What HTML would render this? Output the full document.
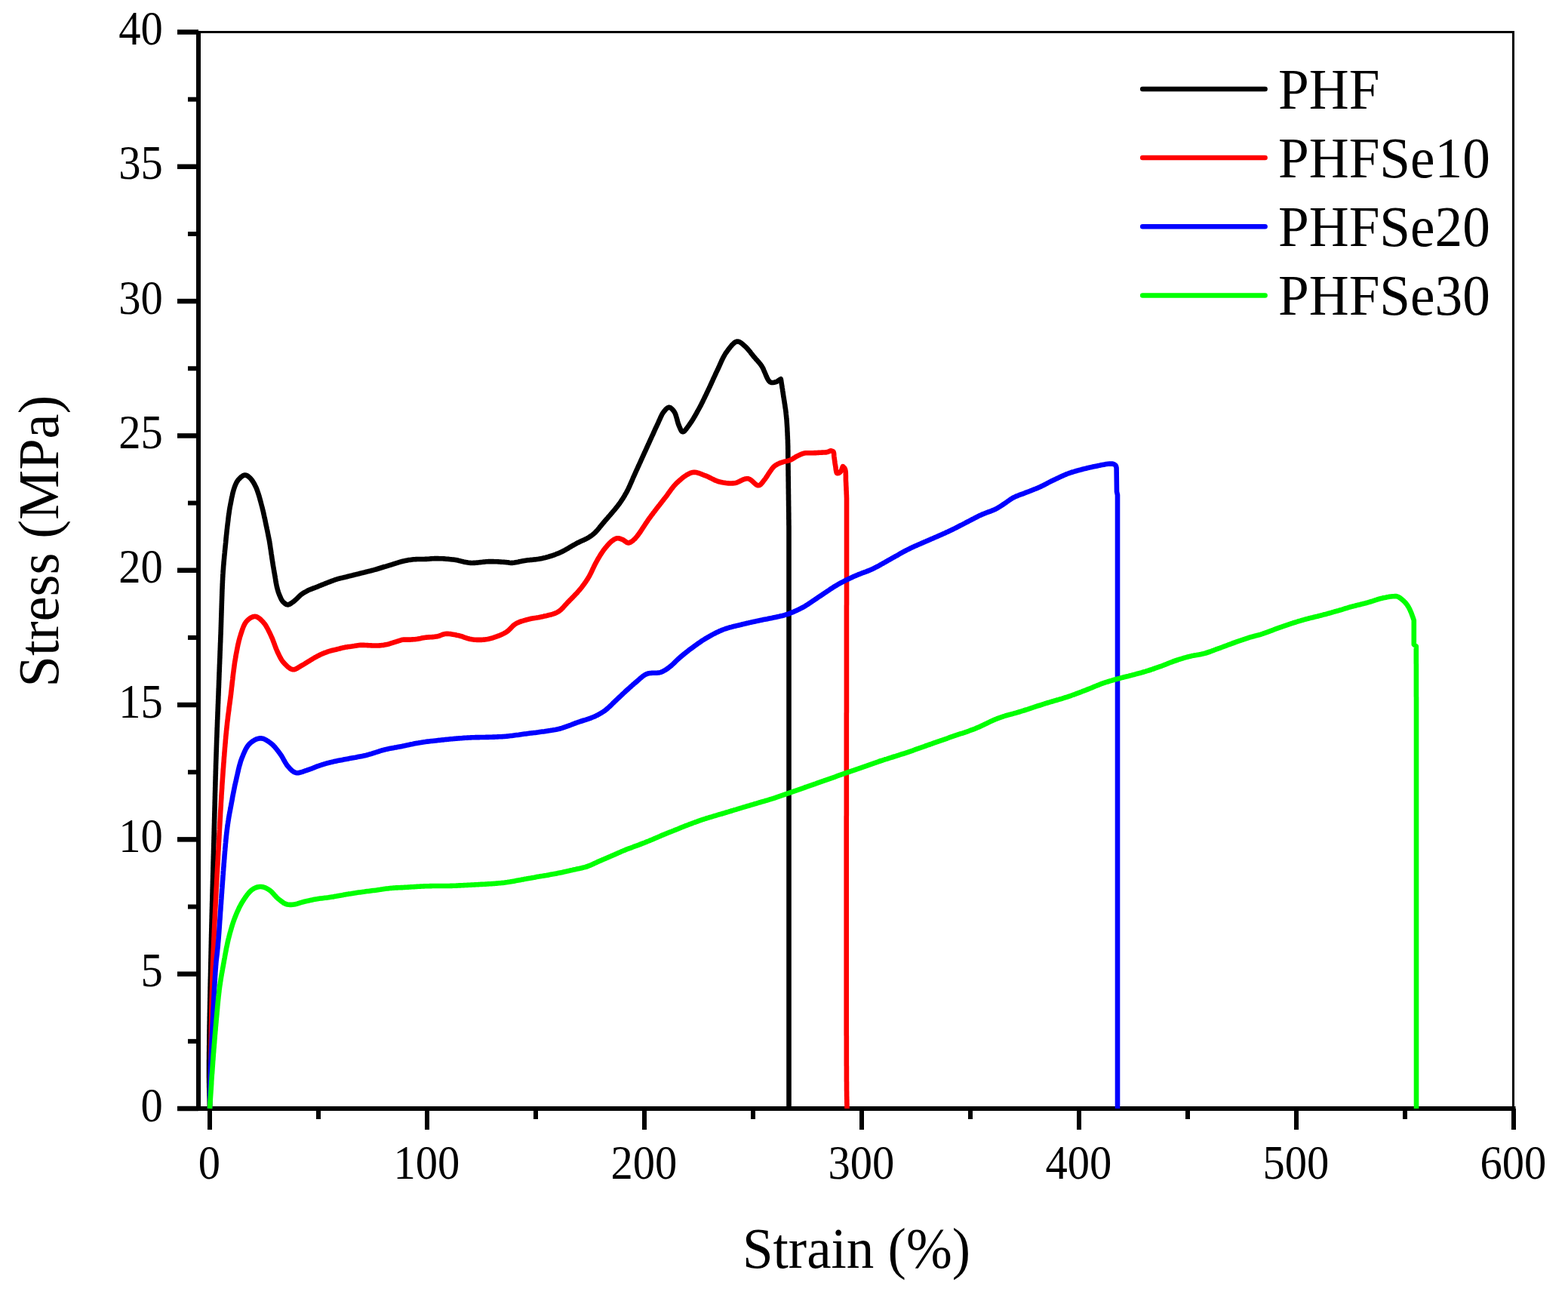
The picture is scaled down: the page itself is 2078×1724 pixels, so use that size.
<!DOCTYPE html>
<html><head><meta charset="utf-8"><title>Stress-Strain</title>
<style>
html,body{margin:0;padding:0;background:#fff;overflow:hidden;}
svg{display:block;}
text{font-family:"Liberation Serif","Times New Roman",serif;fill:#000;}
.tk{font-size:64px;}
.ti{font-size:76px;}
.lg{font-size:76px;}
</style></head>
<body>
<svg width="2078" height="1724" viewBox="0 0 2078 1724">
<rect width="2078" height="1724" fill="#fff"/>
<line x1="263" y1="42.5" x2="2005.5" y2="42.5" stroke="#000" stroke-width="3" stroke-linecap="square"/>
<line x1="2005.5" y1="42.5" x2="2005.5" y2="1469" stroke="#000" stroke-width="3" stroke-linecap="square"/>
<line x1="263" y1="41.0" x2="263" y2="1472" stroke="#000" stroke-width="6"/>
<line x1="260" y1="1469" x2="2008.5" y2="1469" stroke="#000" stroke-width="6"/>
<line x1="235" y1="1469.00" x2="263" y2="1469.00" stroke="#000" stroke-width="6.5"/>
<text transform="translate(215.80,1485.60) scale(0.915,1)" text-anchor="end" class="tk">0</text>
<line x1="249" y1="1379.84" x2="263" y2="1379.84" stroke="#000" stroke-width="6"/>
<line x1="235" y1="1290.69" x2="263" y2="1290.69" stroke="#000" stroke-width="6.5"/>
<text transform="translate(215.80,1307.29) scale(0.915,1)" text-anchor="end" class="tk">5</text>
<line x1="249" y1="1201.53" x2="263" y2="1201.53" stroke="#000" stroke-width="6"/>
<line x1="235" y1="1112.38" x2="263" y2="1112.38" stroke="#000" stroke-width="6.5"/>
<text transform="translate(215.80,1128.97) scale(0.915,1)" text-anchor="end" class="tk">10</text>
<line x1="249" y1="1023.22" x2="263" y2="1023.22" stroke="#000" stroke-width="6"/>
<line x1="235" y1="934.06" x2="263" y2="934.06" stroke="#000" stroke-width="6.5"/>
<text transform="translate(215.80,950.66) scale(0.915,1)" text-anchor="end" class="tk">15</text>
<line x1="249" y1="844.91" x2="263" y2="844.91" stroke="#000" stroke-width="6"/>
<line x1="235" y1="755.75" x2="263" y2="755.75" stroke="#000" stroke-width="6.5"/>
<text transform="translate(215.80,772.35) scale(0.915,1)" text-anchor="end" class="tk">20</text>
<line x1="249" y1="666.59" x2="263" y2="666.59" stroke="#000" stroke-width="6"/>
<line x1="235" y1="577.44" x2="263" y2="577.44" stroke="#000" stroke-width="6.5"/>
<text transform="translate(215.80,594.04) scale(0.915,1)" text-anchor="end" class="tk">25</text>
<line x1="249" y1="488.28" x2="263" y2="488.28" stroke="#000" stroke-width="6"/>
<line x1="235" y1="399.12" x2="263" y2="399.12" stroke="#000" stroke-width="6.5"/>
<text transform="translate(215.80,415.73) scale(0.915,1)" text-anchor="end" class="tk">30</text>
<line x1="249" y1="309.97" x2="263" y2="309.97" stroke="#000" stroke-width="6"/>
<line x1="235" y1="220.81" x2="263" y2="220.81" stroke="#000" stroke-width="6.5"/>
<text transform="translate(215.80,237.41) scale(0.915,1)" text-anchor="end" class="tk">35</text>
<line x1="249" y1="131.66" x2="263" y2="131.66" stroke="#000" stroke-width="6"/>
<line x1="235" y1="42.50" x2="263" y2="42.50" stroke="#000" stroke-width="6.5"/>
<text transform="translate(215.80,59.10) scale(0.915,1)" text-anchor="end" class="tk">40</text>
<line x1="278.00" y1="1469" x2="278.00" y2="1497" stroke="#000" stroke-width="6"/>
<text transform="translate(277.40,1562.00) scale(0.915,1)" text-anchor="middle" class="tk">0</text>
<line x1="422.00" y1="1469" x2="422.00" y2="1483" stroke="#000" stroke-width="6"/>
<line x1="566.00" y1="1469" x2="566.00" y2="1497" stroke="#000" stroke-width="6"/>
<text transform="translate(565.40,1562.00) scale(0.915,1)" text-anchor="middle" class="tk">100</text>
<line x1="710.00" y1="1469" x2="710.00" y2="1483" stroke="#000" stroke-width="6"/>
<line x1="854.00" y1="1469" x2="854.00" y2="1497" stroke="#000" stroke-width="6"/>
<text transform="translate(853.40,1562.00) scale(0.915,1)" text-anchor="middle" class="tk">200</text>
<line x1="998.00" y1="1469" x2="998.00" y2="1483" stroke="#000" stroke-width="6"/>
<line x1="1142.00" y1="1469" x2="1142.00" y2="1497" stroke="#000" stroke-width="6"/>
<text transform="translate(1141.40,1562.00) scale(0.915,1)" text-anchor="middle" class="tk">300</text>
<line x1="1286.00" y1="1469" x2="1286.00" y2="1483" stroke="#000" stroke-width="6"/>
<line x1="1430.00" y1="1469" x2="1430.00" y2="1497" stroke="#000" stroke-width="6"/>
<text transform="translate(1429.40,1562.00) scale(0.915,1)" text-anchor="middle" class="tk">400</text>
<line x1="1574.00" y1="1469" x2="1574.00" y2="1483" stroke="#000" stroke-width="6"/>
<line x1="1718.00" y1="1469" x2="1718.00" y2="1497" stroke="#000" stroke-width="6"/>
<text transform="translate(1717.40,1562.00) scale(0.915,1)" text-anchor="middle" class="tk">500</text>
<line x1="1862.00" y1="1469" x2="1862.00" y2="1483" stroke="#000" stroke-width="6"/>
<line x1="2006.00" y1="1469" x2="2006.00" y2="1497" stroke="#000" stroke-width="6"/>
<text transform="translate(2005.40,1562.00) scale(0.915,1)" text-anchor="middle" class="tk">600</text>
<polyline points="278.0,1469.0 278.0,1467.5 277.9,1466.0 277.9,1464.5 277.9,1463.1 277.8,1461.6 277.8,1460.2 277.7,1458.8 277.7,1457.4 277.7,1456.0 277.6,1454.7 277.6,1453.3 277.5,1451.9 277.5,1450.5 277.5,1449.1 277.4,1447.7 277.4,1446.3 277.4,1444.9 277.3,1443.4 277.3,1442.0 277.2,1440.5 277.2,1439.0 277.2,1437.5 277.2,1435.9 277.1,1434.3 277.1,1432.7 277.1,1431.0 277.1,1429.3 277.0,1427.5 277.0,1425.7 277.0,1423.9 277.0,1422.0 277.0,1420.0 277.0,1418.9 277.0,1417.8 277.0,1416.7 277.0,1415.6 277.0,1414.5 277.0,1413.3 277.0,1412.2 277.0,1411.0 277.0,1409.8 277.0,1408.6 277.0,1407.4 277.0,1406.1 277.0,1404.9 277.1,1403.6 277.1,1402.3 277.1,1401.0 277.1,1399.7 277.1,1398.4 277.1,1397.1 277.1,1395.7 277.1,1394.4 277.2,1393.0 277.2,1391.6 277.2,1390.2 277.2,1388.8 277.2,1387.4 277.2,1386.0 277.3,1384.5 277.3,1383.1 277.3,1381.6 277.3,1380.2 277.3,1378.7 277.4,1377.2 277.4,1375.7 277.4,1374.2 277.4,1372.7 277.4,1371.2 277.5,1369.7 277.5,1368.1 277.5,1366.6 277.5,1365.1 277.6,1363.5 277.6,1361.9 277.6,1360.4 277.6,1358.8 277.7,1357.2 277.7,1355.6 277.7,1354.0 277.8,1352.4 277.8,1350.8 277.8,1349.2 277.8,1347.6 277.9,1346.0 277.9,1344.4 277.9,1342.8 278.0,1341.1 278.0,1339.5 278.0,1337.9 278.1,1336.2 278.1,1334.6 278.1,1332.9 278.2,1331.3 278.2,1329.6 278.2,1328.0 278.3,1326.3 278.3,1324.7 278.3,1323.0 278.4,1321.4 278.4,1319.7 278.4,1318.0 278.5,1316.4 278.5,1314.7 278.5,1313.1 278.6,1311.4 278.6,1309.7 278.6,1308.1 278.7,1306.4 278.7,1304.8 278.7,1303.1 278.8,1301.5 278.8,1299.8 278.8,1298.2 278.9,1296.5 278.9,1294.9 279.0,1293.3 279.0,1291.6 279.0,1290.0 279.1,1288.4 279.1,1286.7 279.1,1285.1 279.2,1283.5 279.2,1281.9 279.2,1280.3 279.3,1278.7 279.3,1277.1 279.3,1275.5 279.4,1273.9 279.4,1272.4 279.4,1270.8 279.5,1269.2 279.5,1267.7 279.5,1266.1 279.6,1264.6 279.6,1263.0 279.6,1261.5 279.7,1260.0 279.7,1258.5 279.7,1257.0 279.8,1255.5 279.8,1254.0 279.8,1252.5 279.9,1250.9 279.9,1249.4 279.9,1247.8 280.0,1246.3 280.0,1244.7 280.0,1243.2 280.1,1241.6 280.1,1240.1 280.1,1238.5 280.2,1237.0 280.2,1235.4 280.3,1233.8 280.3,1232.3 280.3,1230.7 280.4,1229.1 280.4,1227.6 280.4,1226.0 280.5,1224.4 280.5,1222.9 280.6,1221.3 280.6,1219.7 280.6,1218.2 280.7,1216.6 280.7,1215.0 280.7,1213.5 280.8,1211.9 280.8,1210.3 280.9,1208.8 280.9,1207.2 280.9,1205.6 281.0,1204.0 281.0,1202.5 281.1,1200.9 281.1,1199.3 281.1,1197.8 281.2,1196.2 281.2,1194.6 281.3,1193.1 281.3,1191.5 281.4,1189.9 281.4,1188.4 281.4,1186.8 281.5,1185.3 281.5,1183.7 281.6,1182.2 281.6,1180.6 281.6,1179.0 281.7,1177.5 281.7,1175.9 281.8,1174.4 281.8,1172.8 281.9,1171.3 281.9,1169.8 281.9,1168.2 282.0,1166.7 282.0,1165.2 282.1,1163.6 282.1,1162.1 282.1,1160.6 282.2,1159.0 282.2,1157.5 282.3,1156.0 282.3,1154.5 282.4,1153.0 282.4,1151.5 282.4,1150.0 282.5,1148.5 282.5,1147.0 282.6,1145.5 282.6,1144.0 282.6,1142.5 282.7,1141.0 282.7,1139.5 282.8,1138.0 282.8,1136.6 282.8,1135.1 282.9,1133.6 282.9,1132.2 283.0,1130.7 283.0,1129.3 283.0,1127.8 283.1,1126.4 283.1,1125.0 283.2,1123.5 283.2,1122.1 283.2,1120.7 283.3,1119.3 283.3,1117.8 283.4,1116.4 283.4,1115.0 283.4,1113.6 283.5,1112.3 283.5,1110.9 283.5,1109.5 283.6,1108.1 283.6,1106.7 283.7,1105.4 283.7,1104.0 283.7,1102.7 283.8,1101.3 283.8,1100.0 283.8,1098.3 283.9,1096.7 283.9,1095.0 284.0,1093.3 284.0,1091.7 284.1,1090.1 284.1,1088.4 284.1,1086.8 284.2,1085.2 284.2,1083.6 284.3,1082.0 284.3,1080.4 284.3,1078.8 284.4,1077.3 284.4,1075.7 284.5,1074.1 284.5,1072.6 284.5,1071.0 284.6,1069.5 284.6,1067.9 284.7,1066.4 284.7,1064.9 284.7,1063.4 284.8,1061.8 284.8,1060.3 284.9,1058.8 284.9,1057.3 284.9,1055.8 285.0,1054.3 285.0,1052.8 285.0,1051.4 285.1,1049.9 285.1,1048.4 285.2,1046.9 285.2,1045.5 285.2,1044.0 285.3,1042.5 285.3,1041.1 285.4,1039.6 285.4,1038.2 285.4,1036.7 285.5,1035.3 285.5,1033.8 285.6,1032.4 285.6,1030.9 285.6,1029.5 285.7,1028.0 285.7,1026.6 285.8,1025.2 285.8,1023.7 285.8,1022.3 285.9,1020.8 285.9,1019.4 286.0,1018.0 286.0,1016.5 286.0,1015.1 286.1,1013.7 286.1,1012.2 286.2,1010.8 286.2,1009.4 286.3,1007.9 286.3,1006.5 286.4,1005.0 286.4,1003.6 286.5,1002.0 286.5,1000.5 286.6,998.9 286.6,997.4 286.7,995.8 286.7,994.3 286.8,992.7 286.8,991.2 286.9,989.7 286.9,988.1 287.0,986.6 287.0,985.1 287.1,983.6 287.1,982.1 287.2,980.5 287.2,979.0 287.3,977.5 287.4,976.0 287.4,974.5 287.5,973.0 287.5,971.5 287.6,970.0 287.6,968.5 287.7,967.0 287.7,965.5 287.8,964.1 287.9,962.6 287.9,961.1 288.0,959.6 288.0,958.1 288.1,956.6 288.1,955.1 288.2,953.7 288.3,952.2 288.3,950.7 288.4,949.2 288.4,947.7 288.5,946.2 288.5,944.8 288.6,943.3 288.7,941.8 288.7,940.3 288.8,938.8 288.8,937.3 288.9,935.9 288.9,934.4 289.0,932.9 289.1,931.4 289.1,929.9 289.2,928.4 289.2,926.9 289.3,925.4 289.3,923.9 289.4,922.4 289.5,920.9 289.5,919.4 289.6,917.9 289.6,916.4 289.7,914.9 289.7,913.4 289.8,911.9 289.9,910.4 289.9,908.9 290.0,907.4 290.0,905.9 290.1,904.4 290.1,902.9 290.2,901.3 290.3,899.8 290.3,898.3 290.4,896.8 290.4,895.3 290.5,893.8 290.5,892.3 290.6,890.8 290.7,889.3 290.7,887.8 290.8,886.3 290.8,884.8 290.9,883.3 290.9,881.8 291.0,880.3 291.1,878.8 291.1,877.3 291.2,875.8 291.2,874.3 291.3,872.8 291.4,871.3 291.4,869.8 291.5,868.3 291.5,866.8 291.6,865.3 291.6,863.8 291.7,862.3 291.8,860.7 291.8,859.2 291.9,857.7 291.9,856.2 292.0,854.7 292.0,853.2 292.1,851.7 292.2,850.2 292.2,848.7 292.3,847.2 292.3,845.7 292.4,844.2 292.4,842.7 292.5,841.2 292.6,839.7 292.6,838.2 292.7,836.6 292.7,835.1 292.8,833.6 292.8,832.0 292.9,830.5 292.9,828.9 293.0,827.3 293.0,825.8 293.1,824.2 293.1,822.6 293.2,821.0 293.2,819.4 293.3,817.8 293.3,816.3 293.4,814.7 293.4,813.1 293.5,811.5 293.5,809.9 293.6,808.3 293.6,806.7 293.7,805.1 293.7,803.5 293.8,802.0 293.8,800.4 293.9,798.8 293.9,797.2 294.0,795.7 294.0,794.1 294.1,792.6 294.1,791.0 294.2,789.5 294.2,788.0 294.3,786.5 294.3,785.0 294.4,783.5 294.4,782.0 294.5,780.5 294.6,779.0 294.6,777.6 294.7,776.1 294.7,774.7 294.8,773.3 294.9,771.9 294.9,770.5 295.0,769.1 295.1,767.8 295.1,766.4 295.2,765.1 295.3,763.8 295.3,762.5 295.4,761.2 295.5,760.0 295.6,758.2 295.7,756.4 295.9,754.7 296.0,753.0 296.1,751.3 296.2,749.6 296.4,748.0 296.5,746.3 296.6,744.7 296.8,743.2 296.9,741.6 297.1,740.1 297.2,738.5 297.3,737.0 297.5,735.5 297.6,734.1 297.8,732.6 297.9,731.2 298.0,729.7 298.2,728.3 298.3,726.9 298.5,725.5 298.6,724.1 298.7,722.7 298.9,721.4 299.0,720.0 299.2,718.3 299.3,716.6 299.5,714.9 299.6,713.3 299.8,711.8 299.9,710.2 300.1,708.7 300.3,707.1 300.4,705.6 300.6,704.1 300.7,702.6 300.9,701.1 301.1,699.6 301.2,698.1 301.4,696.6 301.6,695.0 301.8,693.4 302.0,691.9 302.2,690.3 302.4,688.7 302.5,687.2 302.7,685.6 302.9,684.0 303.1,682.5 303.4,680.9 303.6,679.4 303.8,677.8 304.0,676.2 304.3,674.7 304.5,673.1 304.8,671.6 305.1,670.0 305.4,668.5 305.7,667.0 306.0,665.4 306.3,663.8 306.6,662.3 306.9,660.7 307.2,659.1 307.6,657.5 307.9,656.0 308.3,654.4 308.6,652.9 309.0,651.5 309.4,650.1 309.8,648.7 310.2,647.4 310.6,646.2 311.0,645.0 311.7,643.3 312.4,641.6 313.1,640.1 313.8,638.7 314.6,637.4 315.5,636.2 316.5,635.0 317.7,633.8 319.0,632.5 320.5,631.4 321.9,630.4 323.4,629.8 324.7,629.5 326.3,629.7 327.9,630.5 329.5,631.7 331.0,633.0 331.9,633.9 332.9,635.0 333.8,636.2 334.7,637.5 335.6,638.8 336.4,640.3 337.3,641.8 338.1,643.4 338.9,645.0 339.5,646.2 340.0,647.5 340.5,648.8 341.0,650.2 341.5,651.6 342.0,653.1 342.5,654.6 343.0,656.1 343.4,657.6 343.9,659.2 344.3,660.7 344.7,662.3 345.2,663.9 345.6,665.4 346.0,667.0 346.4,668.5 346.8,670.0 347.2,671.5 347.6,672.9 347.9,674.4 348.3,675.9 348.7,677.4 349.0,678.8 349.3,680.3 349.7,681.8 350.0,683.3 350.3,684.8 350.6,686.2 351.0,687.7 351.3,689.2 351.6,690.7 351.9,692.1 352.2,693.6 352.5,695.0 352.8,696.6 353.2,698.1 353.5,699.7 353.8,701.2 354.2,702.8 354.5,704.4 354.8,705.9 355.1,707.5 355.4,709.0 355.7,710.5 356.0,712.0 356.3,713.5 356.6,714.9 356.9,716.3 357.1,717.7 357.4,719.3 357.6,720.9 357.9,722.4 358.1,724.0 358.3,725.4 358.5,726.9 358.8,728.4 359.0,729.8 359.2,731.3 359.4,732.8 359.6,734.3 359.9,735.8 360.1,737.3 360.3,738.8 360.5,740.4 360.8,741.9 361.0,743.4 361.2,744.9 361.5,746.4 361.7,747.9 361.9,749.4 362.2,750.9 362.5,752.4 362.7,753.9 363.0,755.5 363.2,757.0 363.5,758.5 363.8,760.0 364.0,761.5 364.3,763.0 364.6,764.5 364.8,766.0 365.1,767.6 365.3,769.1 365.5,770.6 365.8,772.2 366.1,773.7 366.4,775.1 366.7,776.6 367.0,778.0 367.5,779.7 367.9,781.5 368.4,783.1 368.9,784.8 369.5,786.4 370.1,787.9 370.7,789.4 371.4,790.9 372.0,792.4 372.7,793.9 373.5,795.2 374.3,796.5 375.2,797.6 376.6,798.9 378.1,800.1 379.7,801.0 381.3,801.4 382.8,801.1 384.3,800.4 385.9,799.4 387.3,798.4 388.6,797.5 389.9,796.4 391.2,795.4 392.5,794.2 393.7,793.1 394.9,791.8 396.2,790.5 397.5,789.3 398.9,788.1 400.1,787.2 401.4,786.3 402.8,785.4 404.2,784.6 405.7,783.8 407.1,783.0 408.5,782.3 410.1,781.6 411.7,780.9 413.3,780.3 414.9,779.7 416.5,779.1 418.1,778.5 419.7,777.9 421.3,777.2 422.9,776.5 424.5,775.9 426.1,775.2 427.7,774.6 429.3,774.0 430.9,773.3 432.5,772.7 434.2,772.0 435.8,771.4 437.4,770.8 439.0,770.2 440.6,769.6 442.2,769.0 443.8,768.4 445.4,767.9 447.0,767.4 448.6,766.9 450.2,766.5 451.8,766.1 453.4,765.8 455.0,765.4 456.6,765.0 458.2,764.6 459.8,764.2 461.4,763.8 463.0,763.4 464.6,763.0 466.2,762.6 467.8,762.2 469.4,761.8 471.1,761.4 472.7,761.0 474.3,760.6 475.9,760.2 477.5,759.8 479.1,759.4 480.7,759.0 482.3,758.6 483.9,758.2 485.5,757.8 487.1,757.4 488.7,757.0 490.3,756.6 491.9,756.2 493.5,755.8 495.1,755.4 496.7,754.9 498.3,754.5 499.9,754.0 501.5,753.5 503.1,753.0 504.7,752.5 506.3,752.0 507.9,751.5 509.5,751.0 511.2,750.6 512.8,750.1 514.4,749.6 516.0,749.1 517.6,748.6 519.2,748.2 520.8,747.7 522.4,747.2 524.0,746.7 525.6,746.2 527.2,745.7 528.8,745.2 530.4,744.7 532.0,744.2 533.6,743.8 535.2,743.4 536.8,743.1 538.4,742.7 540.0,742.4 541.6,742.1 543.2,741.9 544.8,741.7 546.4,741.5 548.0,741.3 549.7,741.2 551.3,741.1 552.9,741.0 554.5,741.0 556.0,741.0 557.5,741.0 559.1,741.0 560.7,741.0 562.5,741.0 563.8,740.9 565.2,740.9 566.7,740.8 568.1,740.7 569.6,740.5 571.2,740.4 572.7,740.3 574.3,740.2 575.9,740.1 577.6,740.1 579.2,740.1 580.6,740.1 582.1,740.2 583.6,740.2 585.2,740.3 586.7,740.3 588.3,740.4 589.9,740.5 591.4,740.7 593.0,740.8 594.6,740.9 596.2,741.1 597.8,741.2 599.3,741.4 600.9,741.6 602.4,741.8 603.9,742.0 605.4,742.3 606.9,742.6 608.4,743.0 609.9,743.3 611.3,743.7 612.8,744.0 614.3,744.4 615.7,744.7 617.2,745.1 618.7,745.3 620.2,745.6 621.7,745.8 623.3,745.9 624.7,746.0 626.2,746.0 627.7,745.9 629.1,745.9 630.6,745.8 632.1,745.6 633.7,745.5 635.2,745.3 636.7,745.1 638.2,745.0 639.8,744.8 641.3,744.6 642.8,744.5 644.3,744.3 645.8,744.2 647.3,744.1 648.8,744.1 650.4,744.1 652.1,744.1 653.7,744.1 655.4,744.2 657.1,744.3 658.8,744.3 660.5,744.4 662.1,744.5 663.7,744.6 665.3,744.7 666.8,744.8 668.2,744.9 669.6,745.0 670.8,745.1 672.0,745.2 674.0,745.4 675.6,745.7 677.1,745.9 679.0,745.9 680.3,745.8 681.8,745.6 683.3,745.3 684.9,745.0 686.5,744.7 688.2,744.3 689.9,743.9 691.7,743.6 693.4,743.2 695.2,742.9 696.6,742.7 698.1,742.5 699.6,742.3 701.1,742.2 702.6,742.0 704.2,741.9 705.8,741.7 707.4,741.5 708.9,741.4 710.5,741.2 712.1,741.0 713.7,740.8 715.3,740.5 716.9,740.2 718.4,739.9 719.9,739.6 721.3,739.2 722.8,738.9 724.3,738.5 725.7,738.1 727.2,737.7 728.6,737.2 730.1,736.8 731.5,736.3 733.0,735.8 734.4,735.3 735.9,734.8 737.3,734.2 738.7,733.7 740.2,733.1 741.6,732.5 743.0,731.9 744.4,731.2 745.8,730.5 747.2,729.8 748.6,729.0 750.1,728.2 751.5,727.4 752.9,726.6 754.2,725.8 755.6,724.9 757.0,724.1 758.3,723.3 759.7,722.6 761.0,721.8 762.3,721.1 763.6,720.4 764.8,719.7 766.3,718.9 767.8,718.2 769.3,717.5 770.8,716.8 772.2,716.2 773.6,715.6 775.0,714.9 776.3,714.3 777.6,713.6 778.8,713.0 780.0,712.3 781.5,711.3 782.9,710.4 784.2,709.5 785.5,708.5 786.7,707.4 788.1,706.2 789.1,705.3 790.0,704.3 791.0,703.2 792.0,702.1 792.9,701.0 793.9,699.8 794.9,698.5 796.0,697.3 797.0,696.0 798.1,694.7 799.2,693.3 800.3,692.0 801.2,691.0 802.1,689.9 803.0,688.8 804.0,687.7 805.0,686.6 806.0,685.4 807.0,684.2 808.0,683.1 809.1,681.8 810.1,680.6 811.2,679.4 812.2,678.2 813.2,677.0 814.2,675.8 815.2,674.6 816.2,673.4 817.2,672.2 818.1,671.0 819.0,669.9 819.8,668.8 820.6,667.7 821.6,666.3 822.6,664.9 823.5,663.5 824.4,662.2 825.3,660.9 826.1,659.6 826.9,658.3 827.7,657.0 828.4,655.6 829.2,654.3 830.0,652.9 830.8,651.4 831.5,650.1 832.1,648.8 832.8,647.5 833.4,646.1 834.1,644.7 834.7,643.3 835.3,641.9 835.9,640.5 836.6,639.1 837.2,637.6 837.8,636.2 838.4,634.8 839.0,633.3 839.6,631.9 840.3,630.5 840.9,629.1 841.5,627.7 842.2,626.3 842.8,624.9 843.4,623.5 844.1,622.1 844.7,620.7 845.3,619.3 845.9,618.0 846.6,616.6 847.2,615.2 847.8,613.8 848.5,612.4 849.1,611.0 849.7,609.6 850.4,608.2 851.0,606.8 851.6,605.4 852.3,604.0 852.9,602.6 853.5,601.2 854.2,599.8 854.8,598.4 855.5,597.0 856.1,595.6 856.7,594.2 857.4,592.8 858.0,591.4 858.6,590.0 859.3,588.6 859.9,587.2 860.6,585.8 861.2,584.4 861.8,583.0 862.5,581.6 863.1,580.2 863.8,578.7 864.4,577.3 865.1,575.9 865.7,574.4 866.4,573.0 867.0,571.6 867.6,570.2 868.3,568.8 868.9,567.4 869.5,566.1 870.2,564.7 870.8,563.4 871.4,562.1 872.1,560.6 872.8,559.1 873.4,557.6 874.1,556.2 874.7,554.7 875.4,553.3 876.0,551.9 876.7,550.5 877.3,549.3 878.0,548.0 878.8,546.9 879.5,545.9 880.6,544.5 881.8,543.1 883.0,541.8 884.2,540.8 885.4,540.1 886.6,539.8 887.8,540.0 889.1,540.7 890.3,541.7 891.5,543.0 892.7,544.4 893.7,545.9 894.4,547.1 895.0,548.4 895.5,549.8 896.0,551.4 896.5,553.1 897.0,554.8 897.4,556.5 897.9,558.2 898.3,559.8 898.8,561.4 899.3,562.8 899.8,564.1 900.6,565.9 901.3,567.7 902.1,569.4 902.9,570.8 903.8,571.9 904.8,572.3 905.7,572.1 906.6,571.6 907.6,570.7 908.6,569.5 909.7,568.1 910.8,566.6 911.9,565.1 913.0,563.6 914.0,562.1 914.8,561.0 915.6,559.8 916.4,558.6 917.3,557.3 918.1,556.0 918.9,554.7 919.7,553.3 920.6,551.9 921.4,550.5 922.2,549.0 923.0,547.6 923.8,546.1 924.6,544.7 925.4,543.2 926.2,541.8 926.9,540.5 927.6,539.2 928.3,537.9 929.0,536.6 929.6,535.3 930.3,533.9 931.0,532.6 931.7,531.2 932.3,529.8 933.0,528.5 933.7,527.1 934.3,525.7 935.0,524.3 935.7,523.0 936.3,521.6 937.0,520.2 937.6,518.8 938.3,517.4 938.9,516.0 939.6,514.7 940.2,513.3 940.9,511.9 941.5,510.5 942.2,509.1 942.8,507.7 943.4,506.3 944.1,504.9 944.7,503.5 945.3,502.1 946.0,500.7 946.6,499.3 947.3,497.9 947.9,496.5 948.6,495.1 949.2,493.7 949.8,492.4 950.5,491.0 951.2,489.6 951.8,488.2 952.5,486.8 953.1,485.4 953.7,483.9 954.4,482.5 955.0,481.1 955.6,479.7 956.3,478.3 956.9,476.9 957.6,475.5 958.3,474.1 959.0,472.8 959.7,471.5 960.4,470.3 961.1,469.0 961.9,467.8 962.7,466.7 963.7,465.3 964.7,463.9 965.8,462.5 966.9,461.1 968.0,459.6 969.1,458.3 970.2,457.0 971.4,455.9 972.5,454.8 973.6,453.9 974.7,453.2 975.8,452.8 976.9,452.5 978.4,452.6 979.9,453.0 981.3,453.8 982.8,454.9 984.2,456.1 985.7,457.4 987.1,458.6 988.1,459.5 989.2,460.6 990.2,461.7 991.2,462.8 992.3,464.1 993.3,465.3 994.3,466.6 995.3,467.9 996.3,469.2 997.3,470.4 998.2,471.6 999.2,472.8 1000.3,474.0 1001.3,475.2 1002.4,476.4 1003.4,477.5 1004.4,478.7 1005.4,479.8 1006.4,481.0 1007.4,482.3 1008.4,483.6 1009.4,485.0 1010.1,486.2 1010.9,487.5 1011.6,489.0 1012.2,490.5 1012.9,492.1 1013.6,493.7 1014.3,495.3 1014.9,496.9 1015.6,498.5 1016.3,500.0 1017.0,501.4 1017.7,502.8 1018.4,503.9 1019.1,504.9 1019.8,505.7 1020.6,506.3 1022.3,507.0 1024.1,507.0 1025.9,506.7 1027.7,506.3 1029.2,505.8 1030.6,505.0 1032.0,504.0 1033.4,503.1 1034.8,502.2 1035.0,503.7 1035.3,505.1 1035.5,506.6 1035.7,508.0 1035.9,509.5 1036.2,510.9 1036.4,512.3 1036.6,513.8 1036.9,515.3 1037.1,516.8 1037.3,518.3 1037.6,519.9 1037.8,521.5 1038.0,522.9 1038.2,524.2 1038.4,525.7 1038.7,527.1 1038.9,528.5 1039.1,530.0 1039.4,531.5 1039.6,533.0 1039.8,534.5 1040.1,536.0 1040.3,537.5 1040.5,539.1 1040.7,540.6 1041.0,542.1 1041.2,543.7 1041.4,545.2 1041.6,546.8 1041.7,548.3 1041.9,549.9 1042.0,551.4 1042.2,552.9 1042.3,554.4 1042.5,555.9 1042.6,557.4 1042.7,558.9 1042.8,560.5 1042.9,562.0 1043.0,563.5 1043.1,565.1 1043.2,566.6 1043.3,568.2 1043.3,569.7 1043.4,571.3 1043.5,572.9 1043.6,574.4 1043.6,576.0 1043.7,577.6 1043.8,579.2 1043.8,580.8 1043.9,582.4 1044.0,583.8 1044.0,585.3 1044.0,586.7 1044.1,588.1 1044.1,589.5 1044.2,590.9 1044.2,592.3 1044.2,593.7 1044.2,595.1 1044.3,596.6 1044.3,598.0 1044.3,599.4 1044.3,600.9 1044.3,602.3 1044.3,603.8 1044.3,605.3 1044.4,606.8 1044.4,608.4 1044.4,609.9 1044.4,611.5 1044.4,613.2 1044.4,614.8 1044.5,616.5 1044.5,618.2 1044.5,620.0 1044.5,621.2 1044.5,622.5 1044.6,623.8 1044.6,625.1 1044.6,626.4 1044.6,627.7 1044.6,629.1 1044.6,630.5 1044.7,631.8 1044.7,633.2 1044.7,634.7 1044.7,636.1 1044.7,637.5 1044.8,639.0 1044.8,640.5 1044.8,642.0 1044.8,643.5 1044.8,645.0 1044.8,646.5 1044.9,648.0 1044.9,649.5 1044.9,651.1 1044.9,652.6 1044.9,654.2 1045.0,655.8 1045.0,657.3 1045.0,658.9 1045.0,660.5 1045.0,662.1 1045.1,663.7 1045.1,665.3 1045.1,666.9 1045.1,668.5 1045.1,670.1 1045.2,671.7 1045.2,673.3 1045.2,674.9 1045.2,676.5 1045.2,678.1 1045.3,679.7 1045.3,681.3 1045.3,682.9 1045.3,684.5 1045.3,686.1 1045.3,687.6 1045.4,689.2 1045.4,690.8 1045.4,692.3 1045.4,693.9 1045.4,695.4 1045.5,697.0 1045.5,698.5 1045.5,700.0 1045.5,1469.0" fill="none" stroke="#000000" stroke-width="6.6" stroke-linejoin="round" stroke-linecap="butt"/>
<polyline points="278.0,1469.0 278.0,1467.5 278.1,1466.0 278.1,1464.5 278.1,1463.0 278.2,1461.6 278.2,1460.2 278.2,1458.8 278.2,1457.3 278.3,1455.9 278.3,1454.5 278.3,1453.1 278.3,1451.7 278.4,1450.3 278.4,1448.9 278.4,1447.5 278.5,1446.1 278.5,1444.6 278.5,1443.2 278.6,1441.7 278.6,1440.2 278.6,1438.7 278.6,1437.2 278.7,1435.6 278.7,1434.0 278.7,1432.4 278.8,1430.7 278.8,1429.1 278.8,1427.3 278.9,1425.6 278.9,1423.8 279.0,1421.9 279.0,1420.0 279.0,1418.9 279.0,1417.7 279.1,1416.6 279.1,1415.4 279.1,1414.2 279.1,1413.0 279.2,1411.8 279.2,1410.6 279.2,1409.4 279.2,1408.1 279.3,1406.9 279.3,1405.6 279.3,1404.3 279.3,1403.0 279.3,1401.7 279.4,1400.4 279.4,1399.0 279.4,1397.7 279.4,1396.3 279.5,1395.0 279.5,1393.6 279.5,1392.2 279.5,1390.8 279.5,1389.4 279.6,1388.0 279.6,1386.6 279.6,1385.1 279.6,1383.7 279.7,1382.2 279.7,1380.8 279.7,1379.3 279.7,1377.8 279.8,1376.3 279.8,1374.8 279.8,1373.3 279.8,1371.8 279.9,1370.3 279.9,1368.8 279.9,1367.3 279.9,1365.7 280.0,1364.2 280.0,1362.6 280.0,1361.1 280.0,1359.5 280.1,1357.9 280.1,1356.4 280.1,1354.8 280.2,1353.2 280.2,1351.6 280.2,1350.0 280.2,1348.4 280.3,1346.8 280.3,1345.2 280.3,1343.6 280.4,1342.0 280.4,1340.4 280.4,1338.8 280.5,1337.1 280.5,1335.5 280.5,1333.9 280.6,1332.3 280.6,1330.6 280.6,1329.0 280.7,1327.4 280.7,1325.7 280.7,1324.1 280.8,1322.4 280.8,1320.8 280.9,1319.1 280.9,1317.5 280.9,1315.9 281.0,1314.2 281.0,1312.6 281.1,1310.9 281.1,1309.3 281.2,1307.6 281.2,1306.0 281.2,1304.4 281.3,1302.7 281.3,1301.1 281.4,1299.4 281.4,1297.8 281.5,1296.2 281.5,1294.5 281.6,1292.9 281.6,1291.3 281.7,1289.7 281.7,1288.0 281.8,1286.4 281.8,1284.8 281.9,1283.2 281.9,1281.6 282.0,1280.0 282.1,1278.6 282.1,1277.2 282.2,1275.7 282.2,1274.3 282.3,1272.9 282.3,1271.4 282.4,1270.0 282.4,1268.5 282.5,1267.0 282.5,1265.5 282.6,1264.1 282.7,1262.6 282.7,1261.1 282.8,1259.6 282.8,1258.1 282.9,1256.5 283.0,1255.0 283.0,1253.5 283.1,1252.0 283.2,1250.4 283.2,1248.9 283.3,1247.3 283.4,1245.8 283.4,1244.2 283.5,1242.7 283.6,1241.1 283.7,1239.5 283.7,1237.9 283.8,1236.4 283.9,1234.8 283.9,1233.2 284.0,1231.6 284.1,1230.0 284.2,1228.4 284.2,1226.8 284.3,1225.2 284.4,1223.6 284.5,1222.0 284.5,1220.4 284.6,1218.8 284.7,1217.2 284.8,1215.6 284.8,1214.0 284.9,1212.4 285.0,1210.8 285.1,1209.2 285.2,1207.6 285.2,1206.0 285.3,1204.3 285.4,1202.7 285.5,1201.1 285.6,1199.5 285.6,1197.9 285.7,1196.3 285.8,1194.7 285.9,1193.1 286.0,1191.4 286.1,1189.8 286.1,1188.2 286.2,1186.6 286.3,1185.0 286.4,1183.4 286.5,1181.8 286.6,1180.2 286.6,1178.6 286.7,1177.0 286.8,1175.5 286.9,1173.9 287.0,1172.3 287.1,1170.7 287.1,1169.1 287.2,1167.6 287.3,1166.0 287.4,1164.4 287.5,1162.9 287.6,1161.3 287.6,1159.8 287.7,1158.2 287.8,1156.7 287.9,1155.2 288.0,1153.6 288.0,1152.1 288.1,1150.6 288.2,1149.1 288.3,1147.6 288.4,1146.1 288.5,1144.6 288.5,1143.1 288.6,1141.6 288.7,1140.2 288.8,1138.7 288.9,1137.2 288.9,1135.8 289.0,1134.3 289.1,1132.9 289.2,1131.5 289.2,1130.0 289.3,1128.6 289.4,1127.2 289.5,1125.8 289.6,1124.4 289.6,1123.1 289.7,1121.7 289.8,1120.3 289.9,1119.0 289.9,1117.7 290.0,1116.3 290.1,1115.0 290.1,1113.7 290.2,1112.4 290.3,1111.1 290.4,1109.8 290.4,1108.6 290.5,1107.3 290.6,1106.1 290.6,1104.8 290.7,1103.6 290.8,1102.4 290.8,1101.2 290.9,1100.0 291.0,1098.2 291.1,1096.4 291.2,1094.6 291.3,1092.8 291.4,1091.1 291.5,1089.3 291.6,1087.6 291.7,1085.9 291.8,1084.3 291.9,1082.6 292.0,1081.0 292.0,1079.3 292.1,1077.7 292.2,1076.1 292.3,1074.6 292.4,1073.0 292.5,1071.4 292.6,1069.9 292.7,1068.4 292.8,1066.9 292.8,1065.4 292.9,1063.9 293.0,1062.4 293.1,1060.9 293.2,1059.5 293.3,1058.0 293.4,1056.6 293.4,1055.1 293.5,1053.7 293.6,1052.2 293.7,1050.8 293.8,1049.4 293.9,1048.0 294.0,1046.6 294.1,1045.2 294.2,1043.8 294.2,1042.4 294.3,1041.0 294.4,1039.5 294.5,1038.1 294.6,1036.7 294.7,1035.3 294.8,1033.9 294.9,1032.5 295.0,1031.1 295.1,1029.7 295.2,1028.3 295.3,1026.9 295.4,1025.4 295.5,1024.0 295.6,1022.4 295.7,1020.8 295.8,1019.2 296.0,1017.6 296.1,1016.0 296.2,1014.4 296.3,1012.8 296.4,1011.2 296.6,1009.6 296.7,1008.0 296.8,1006.4 296.9,1004.8 297.0,1003.2 297.2,1001.7 297.3,1000.1 297.4,998.5 297.5,997.0 297.7,995.4 297.8,993.8 297.9,992.3 298.0,990.8 298.2,989.2 298.3,987.7 298.4,986.2 298.6,984.7 298.7,983.2 298.8,981.7 298.9,980.2 299.1,978.7 299.2,977.2 299.3,975.7 299.5,974.3 299.6,972.8 299.8,971.4 299.9,970.0 300.0,968.6 300.2,967.2 300.3,965.8 300.5,964.4 300.6,963.0 300.8,961.4 301.0,959.7 301.1,958.1 301.3,956.6 301.5,955.0 301.7,953.5 301.9,952.0 302.0,950.5 302.2,949.0 302.4,947.5 302.6,946.0 302.8,944.6 303.0,943.1 303.2,941.7 303.4,940.2 303.5,938.8 303.7,937.3 303.9,935.9 304.1,934.4 304.3,933.0 304.5,931.5 304.7,930.0 304.9,928.5 305.1,927.0 305.3,925.5 305.5,924.0 305.7,922.4 305.9,920.9 306.1,919.5 306.2,918.0 306.4,916.5 306.6,914.9 306.8,913.4 306.9,911.9 307.1,910.3 307.3,908.7 307.5,907.2 307.6,905.6 307.8,904.0 308.0,902.4 308.2,900.9 308.4,899.3 308.5,897.7 308.7,896.1 308.9,894.5 309.1,893.0 309.3,891.4 309.5,889.9 309.7,888.3 309.9,886.8 310.1,885.3 310.3,883.8 310.5,882.3 310.7,880.8 310.9,879.3 311.1,877.9 311.3,876.5 311.6,875.1 311.8,873.7 312.1,872.1 312.4,870.4 312.6,868.8 312.9,867.2 313.2,865.6 313.5,864.1 313.8,862.5 314.1,861.0 314.4,859.4 314.7,857.9 315.0,856.4 315.3,854.9 315.6,853.4 316.0,852.0 316.3,850.6 316.6,849.1 317.0,847.8 317.4,846.4 317.7,845.1 318.1,843.7 318.5,842.5 318.9,841.2 319.4,839.6 320.0,837.9 320.5,836.3 321.0,834.8 321.6,833.2 322.1,831.7 322.7,830.3 323.3,828.9 324.0,827.5 324.6,826.3 325.4,825.1 326.2,824.0 327.0,823.0 328.2,821.8 329.5,820.6 330.9,819.6 332.4,818.6 333.9,817.9 335.3,817.3 336.8,817.0 338.2,816.9 339.5,817.1 340.8,817.6 342.0,818.3 343.3,819.2 344.6,820.2 345.8,821.3 347.0,822.5 348.2,823.8 349.3,825.0 350.2,826.1 351.1,827.3 352.0,828.5 352.8,829.9 353.6,831.3 354.4,832.7 355.2,834.2 355.9,835.7 356.7,837.2 357.4,838.7 358.1,840.2 358.8,841.7 359.5,843.2 360.1,844.6 360.8,846.0 361.4,847.5 361.9,849.0 362.5,850.5 363.1,852.0 363.6,853.5 364.2,855.0 364.7,856.5 365.3,857.9 365.8,859.4 366.4,860.8 367.0,862.2 367.6,863.5 368.3,865.1 369.1,866.6 369.8,868.2 370.5,869.7 371.3,871.1 372.1,872.6 372.9,873.9 373.8,875.3 374.7,876.6 375.7,877.8 376.8,879.0 377.9,880.2 379.2,881.5 380.4,882.7 381.7,883.9 383.1,884.9 384.4,885.8 385.7,886.5 387.0,887.0 388.3,887.3 389.8,887.2 391.4,886.8 392.9,886.1 394.4,885.2 395.9,884.2 397.4,883.3 398.9,882.4 400.3,881.6 401.7,880.8 403.1,880.0 404.4,879.2 405.8,878.4 407.1,877.5 408.5,876.7 409.9,875.9 411.2,875.0 412.6,874.2 414.0,873.3 415.3,872.5 416.7,871.7 418.1,870.9 419.5,870.2 420.8,869.4 422.2,868.7 423.6,868.0 424.9,867.3 426.3,866.7 427.7,866.1 429.3,865.4 430.9,864.8 432.5,864.3 434.1,863.7 435.8,863.2 437.4,862.7 439.0,862.2 440.6,861.8 442.2,861.4 443.8,861.1 445.4,860.7 447.0,860.3 448.6,859.9 450.2,859.5 451.8,859.0 453.4,858.6 455.0,858.2 456.6,857.9 458.2,857.6 459.8,857.4 461.4,857.1 463.0,856.9 464.6,856.7 466.2,856.5 467.8,856.2 469.4,856.0 471.0,855.7 472.7,855.4 474.3,855.2 475.9,855.0 477.5,854.9 479.1,854.9 480.7,854.9 482.3,854.9 483.9,855.0 485.5,855.0 487.1,855.1 488.7,855.2 490.3,855.3 491.9,855.4 493.5,855.5 495.1,855.5 496.7,855.5 498.3,855.5 499.9,855.5 501.5,855.5 503.1,855.4 504.7,855.3 506.3,855.1 507.9,854.9 509.6,854.6 511.2,854.3 512.8,854.0 514.4,853.6 516.0,853.2 517.6,852.7 519.2,852.2 520.8,851.7 522.4,851.2 524.0,850.7 525.6,850.2 527.2,849.6 528.8,849.1 530.4,848.6 532.0,848.1 533.6,847.8 535.2,847.6 536.8,847.6 538.4,847.6 540.0,847.6 541.6,847.6 543.2,847.6 544.8,847.5 546.4,847.4 548.1,847.3 549.7,847.2 551.3,847.0 552.9,846.8 554.5,846.5 556.0,846.2 557.5,845.9 559.1,845.5 560.7,845.2 562.5,844.9 563.9,844.7 565.3,844.6 566.8,844.5 568.4,844.4 570.0,844.3 571.6,844.2 573.2,844.1 574.8,844.0 576.3,843.8 577.8,843.6 579.2,843.4 580.7,843.0 582.2,842.6 583.6,842.0 585.0,841.5 586.4,840.9 587.8,840.5 589.3,840.1 590.8,839.9 592.3,839.8 593.8,839.9 595.4,840.0 597.0,840.1 598.7,840.4 600.3,840.7 602.0,841.0 603.7,841.3 605.3,841.7 607.0,842.0 608.5,842.3 610.0,842.8 611.6,843.2 613.1,843.7 614.7,844.3 616.2,844.8 617.8,845.3 619.3,845.8 620.9,846.3 622.5,846.7 624.0,847.0 625.6,847.3 627.1,847.5 628.7,847.7 630.3,847.8 631.8,847.9 633.4,847.9 635.0,847.9 636.5,847.9 638.1,847.9 639.7,847.8 641.2,847.6 642.7,847.5 644.2,847.3 645.7,847.1 647.3,846.8 648.8,846.4 650.3,846.0 651.8,845.6 653.3,845.2 654.8,844.7 656.3,844.2 657.7,843.7 659.1,843.2 660.4,842.7 662.0,842.1 663.5,841.4 665.0,840.8 666.4,840.1 667.8,839.4 669.2,838.6 670.6,837.8 672.0,836.9 673.2,836.0 674.3,835.0 675.4,833.9 676.5,832.8 677.6,831.7 678.7,830.5 679.8,829.4 681.0,828.4 682.3,827.4 683.6,826.5 684.8,825.8 686.1,825.2 687.5,824.6 688.9,824.0 690.4,823.5 691.8,823.0 693.3,822.6 694.8,822.1 696.4,821.7 697.9,821.3 699.3,820.9 700.8,820.6 702.2,820.2 703.8,819.8 705.5,819.5 707.1,819.2 708.7,818.9 710.2,818.7 711.8,818.4 713.4,818.2 715.1,817.9 716.7,817.6 718.4,817.2 719.8,816.9 721.3,816.5 722.8,816.2 724.4,815.9 725.9,815.5 727.5,815.1 729.1,814.8 730.7,814.3 732.2,813.9 733.7,813.4 735.2,812.9 736.6,812.3 738.0,811.6 739.3,810.9 740.7,810.0 741.9,809.1 743.2,808.1 744.3,807.0 745.5,805.9 746.6,804.7 747.6,803.5 748.7,802.3 749.8,801.1 750.9,799.9 752.0,798.6 753.2,797.4 754.3,796.3 755.4,795.2 756.5,794.1 757.6,792.9 758.7,791.8 759.9,790.6 761.0,789.4 762.1,788.2 763.3,787.1 764.4,785.9 765.5,784.7 766.5,783.5 767.5,782.3 768.5,781.2 769.5,780.0 770.5,778.8 771.5,777.5 772.4,776.3 773.3,775.1 774.2,773.9 775.0,772.7 775.9,771.5 776.7,770.3 777.5,769.0 778.4,767.8 779.2,766.4 780.0,765.1 780.7,763.9 781.4,762.6 782.1,761.2 782.8,759.9 783.5,758.5 784.2,757.1 784.8,755.7 785.5,754.3 786.1,752.9 786.8,751.5 787.5,750.1 788.1,748.7 788.8,747.4 789.5,746.1 790.2,744.8 791.0,743.4 791.8,741.9 792.6,740.5 793.4,739.1 794.3,737.7 795.1,736.3 795.9,735.0 796.8,733.7 797.6,732.4 798.5,731.1 799.4,729.8 800.3,728.6 801.3,727.3 802.4,725.9 803.5,724.6 804.6,723.2 805.7,722.0 806.9,720.7 808.0,719.6 809.1,718.5 810.2,717.5 811.2,716.7 812.6,715.7 813.9,714.8 815.3,714.1 816.6,713.6 818.0,713.3 819.7,713.3 821.5,713.7 823.2,714.3 825.0,715.0 826.6,715.9 828.1,717.0 829.7,718.2 831.2,719.1 832.8,719.4 834.1,719.2 835.4,718.7 836.7,717.9 838.1,716.9 839.5,715.7 840.9,714.4 841.7,713.7 842.4,712.8 843.2,711.9 844.1,710.9 844.9,709.8 845.7,708.7 846.6,707.5 847.5,706.3 848.4,705.0 849.3,703.7 850.2,702.3 851.1,700.9 852.0,699.5 852.9,698.1 853.9,696.7 854.8,695.3 855.7,693.9 856.6,692.5 857.6,691.1 858.5,689.7 859.4,688.4 860.3,687.1 861.2,685.9 862.1,684.7 863.0,683.4 864.0,682.2 864.9,681.0 865.8,679.7 866.8,678.5 867.7,677.3 868.6,676.0 869.6,674.8 870.5,673.6 871.4,672.4 872.4,671.2 873.3,670.0 874.3,668.8 875.2,667.6 876.1,666.4 877.0,665.2 877.9,664.1 878.8,662.9 879.7,661.8 880.6,660.6 881.5,659.5 882.5,658.2 883.5,656.9 884.4,655.7 885.3,654.4 886.2,653.1 887.1,651.9 888.0,650.6 888.9,649.4 889.8,648.1 890.8,646.9 891.7,645.8 892.6,644.6 893.6,643.5 894.6,642.3 895.6,641.3 896.6,640.2 897.7,639.2 898.8,638.2 900.0,637.1 901.2,636.1 902.5,635.0 903.7,633.9 905.0,632.9 906.3,631.9 907.6,631.0 908.9,630.1 910.2,629.2 911.6,628.5 912.9,627.8 914.2,627.2 915.5,626.7 916.7,626.3 918.0,626.0 919.5,625.8 921.0,625.9 922.5,626.0 923.9,626.3 925.4,626.8 926.9,627.2 928.4,627.8 929.8,628.4 931.3,629.0 932.8,629.6 934.3,630.1 935.7,630.6 937.1,631.2 938.4,631.8 939.8,632.5 941.2,633.2 942.6,633.9 944.0,634.6 945.4,635.3 946.8,636.0 948.2,636.7 949.7,637.2 951.1,637.8 952.6,638.2 954.1,638.6 955.6,638.9 957.2,639.3 958.8,639.6 960.3,639.8 961.9,640.1 963.5,640.3 965.1,640.4 966.7,640.5 968.3,640.5 969.8,640.5 971.4,640.4 972.9,640.3 974.5,640.0 976.1,639.6 977.6,639.0 979.2,638.3 980.7,637.5 982.3,636.7 983.8,636.0 985.3,635.3 986.8,634.8 988.3,634.4 989.7,634.2 991.1,634.2 992.5,634.6 993.9,635.3 995.3,636.2 996.7,637.3 998.0,638.5 999.3,639.8 1000.6,640.9 1001.8,641.9 1003.0,642.7 1004.2,643.2 1005.3,643.3 1006.7,642.9 1007.9,642.1 1009.1,640.9 1010.3,639.5 1011.4,638.0 1012.4,636.6 1013.5,635.2 1014.5,633.9 1015.5,632.5 1016.4,631.1 1017.3,629.7 1018.2,628.3 1019.1,626.9 1020.0,625.6 1021.0,624.2 1021.9,622.9 1022.8,621.6 1023.8,620.3 1024.8,619.1 1025.8,618.1 1027.2,617.0 1028.6,616.1 1030.0,615.3 1031.5,614.6 1032.9,613.9 1034.3,613.3 1035.8,612.8 1037.3,612.3 1039.0,611.8 1040.8,611.4 1042.6,611.0 1044.2,610.6 1045.8,610.1 1047.4,609.6 1048.9,608.9 1050.3,608.1 1051.7,607.2 1053.2,606.3 1054.6,605.4 1056.0,604.6 1057.5,603.9 1058.9,603.2 1060.4,602.5 1061.8,601.9 1063.2,601.4 1064.6,600.9 1066.2,600.5 1067.6,600.3 1069.2,600.2 1070.8,600.2 1072.6,600.2 1074.3,600.2 1076.0,600.2 1077.7,600.2 1079.4,600.1 1081.1,600.1 1082.8,600.0 1084.5,599.9 1086.2,599.8 1087.8,599.7 1089.3,599.6 1091.2,599.5 1093.0,599.5 1094.6,599.4 1096.2,599.1 1097.8,598.6 1099.3,597.9 1100.8,597.3 1102.7,597.7 1104.3,598.5 1104.8,599.5 1105.1,600.9 1105.2,602.6 1105.3,604.3 1105.5,606.0 1105.7,607.5 1105.9,609.1 1106.2,610.8 1106.4,612.5 1106.6,614.2 1106.9,615.9 1107.2,617.5 1107.5,619.4 1107.7,621.4 1108.0,623.4 1108.4,625.2 1108.8,626.5 1109.5,627.3 1111.5,627.0 1113.5,625.6 1114.3,624.5 1115.1,623.0 1115.7,621.4 1116.3,619.7 1117.0,618.1 1118.0,619.1 1119.1,620.2 1119.9,621.6 1120.2,622.7 1120.5,624.0 1120.7,625.4 1120.8,627.0 1120.8,628.7 1120.9,630.5 1120.9,632.3 1120.9,634.1 1120.9,635.9 1121.0,637.7 1121.1,639.2 1121.2,640.7 1121.2,642.2 1121.3,643.8 1121.4,645.4 1121.5,647.0 1121.5,648.6 1121.6,650.3 1121.7,651.9 1121.7,653.5 1121.8,655.2 1121.9,656.8 1121.9,658.4 1122.0,660.0 1122.0,661.5 1122.0,663.0 1122.0,664.5 1122.0,666.0 1122.0,667.5 1122.0,669.1 1122.0,670.6 1122.0,672.1 1122.0,673.7 1122.0,675.2 1122.0,676.7 1122.0,678.3 1122.0,679.8 1122.0,681.4 1122.0,682.9 1122.0,684.5 1122.0,686.0 1122.0,687.6 1122.0,689.2 1122.0,690.8 1122.0,692.3 1122.0,693.9 1122.0,695.5 1122.0,697.1 1122.0,698.7 1122.0,700.3 1122.0,701.8 1122.0,703.4 1122.0,705.1 1122.0,706.7 1122.0,708.3 1122.0,709.9 1122.0,711.5 1122.0,713.1 1122.0,714.7 1122.0,716.4 1122.0,718.0 1122.0,719.6 1122.0,721.2 1122.0,722.9 1122.0,724.5 1122.0,726.2 1122.0,727.8 1122.0,729.5 1122.0,731.1 1122.0,732.8 1122.0,734.4 1122.0,736.1 1122.0,737.7 1122.0,739.4 1122.0,741.1 1122.0,742.8 1122.0,744.4 1122.0,746.1 1122.0,747.8 1122.0,749.5 1122.0,751.1 1122.0,752.8 1122.0,754.5 1122.0,756.2 1122.0,757.9 1122.0,759.6 1122.0,761.3 1122.0,763.0 1122.0,764.7 1122.0,766.4 1122.0,768.1 1122.0,769.8 1122.0,771.6 1122.0,773.3 1122.0,775.0 1122.0,776.7 1122.0,778.4 1122.0,780.2 1122.0,781.9 1122.0,783.6 1122.0,785.4 1122.0,787.1 1122.0,788.8 1122.0,790.6 1122.0,792.3 1122.0,794.1 1122.0,795.8 1122.0,797.5 1122.0,799.3 1122.0,801.0 1121.9,802.8 1121.9,804.6 1121.9,806.3 1121.9,808.1 1121.9,809.8 1121.9,811.6 1121.9,813.4 1121.9,815.1 1121.9,816.9 1121.9,818.7 1121.9,820.4 1121.9,822.2 1121.9,824.0 1121.9,825.8 1121.9,827.5 1121.9,829.3 1121.9,831.1 1121.9,832.9 1121.9,834.7 1121.9,836.5 1121.9,838.3 1121.9,840.0 1121.9,841.8 1121.9,843.6 1121.9,845.4 1121.9,847.2 1121.9,849.0 1121.9,850.8 1121.9,852.6 1121.9,854.4 1121.9,856.2 1121.9,858.0 1121.9,859.8 1121.9,861.6 1121.9,863.4 1121.9,865.2 1121.9,867.0 1121.9,868.9 1121.9,870.7 1121.9,872.5 1121.9,874.3 1121.9,876.1 1121.9,877.9 1121.9,879.7 1121.9,881.6 1121.9,883.4 1121.9,885.2 1121.9,887.0 1121.9,888.8 1121.9,890.7 1121.9,892.5 1121.9,894.3 1121.9,896.1 1121.9,898.0 1121.9,899.8 1121.9,901.6 1121.9,903.4 1121.9,905.3 1121.9,907.1 1121.9,908.9 1121.9,910.8 1121.9,912.6 1121.9,914.4 1121.9,916.3 1121.9,918.1 1121.9,919.9 1121.9,921.8 1121.9,923.6 1121.9,925.4 1121.9,927.3 1121.9,929.1 1121.9,930.9 1121.9,932.8 1121.9,934.6 1121.9,936.4 1121.9,938.3 1121.9,940.1 1121.9,941.9 1121.9,943.8 1121.8,945.6 1121.8,947.5 1121.8,949.3 1121.8,951.1 1121.8,953.0 1121.8,954.8 1121.8,956.6 1121.8,958.5 1121.8,960.3 1121.8,962.2 1121.8,964.0 1121.8,965.8 1121.8,967.7 1121.8,969.5 1121.8,971.4 1121.8,973.2 1121.8,975.0 1121.8,976.9 1121.8,978.7 1121.8,980.5 1121.8,982.4 1121.8,984.2 1121.8,986.0 1121.8,987.9 1121.8,989.7 1121.8,991.6 1121.8,993.4 1121.8,995.2 1121.8,997.1 1121.8,998.9 1121.8,1000.7 1121.8,1002.6 1121.8,1004.4 1121.8,1006.2 1121.8,1008.0 1121.8,1009.9 1121.8,1011.7 1121.8,1013.5 1121.8,1015.4 1121.8,1017.2 1121.8,1019.0 1121.8,1020.8 1121.8,1022.7 1121.8,1024.5 1121.8,1026.3 1121.8,1028.1 1121.8,1030.0 1121.8,1031.8 1121.8,1033.6 1121.8,1035.4 1121.8,1037.2 1121.8,1039.1 1121.8,1040.9 1121.8,1042.7 1121.8,1044.5 1121.8,1046.3 1121.8,1048.1 1121.8,1049.9 1121.8,1051.8 1121.8,1053.6 1121.8,1055.4 1121.8,1057.2 1121.8,1059.0 1121.8,1060.8 1121.8,1062.6 1121.8,1064.4 1121.8,1066.2 1121.8,1068.0 1121.8,1069.8 1121.8,1071.6 1121.8,1073.4 1121.8,1075.2 1121.8,1077.0 1121.8,1078.8 1121.8,1080.5 1121.7,1082.3 1121.7,1084.1 1121.7,1085.9 1121.7,1087.7 1121.7,1089.5 1121.7,1091.2 1121.7,1093.0 1121.7,1094.8 1121.7,1096.6 1121.7,1098.3 1121.7,1100.1 1121.7,1101.9 1121.7,1103.7 1121.7,1105.4 1121.7,1107.2 1121.7,1108.9 1121.7,1110.7 1121.7,1112.5 1121.7,1114.2 1121.7,1116.0 1121.7,1117.7 1121.7,1119.5 1121.7,1121.2 1121.7,1123.0 1121.7,1124.7 1121.7,1126.5 1121.7,1128.2 1121.7,1129.9 1121.7,1131.7 1121.7,1133.4 1121.7,1135.1 1121.7,1136.9 1121.7,1138.6 1121.7,1140.3 1121.7,1142.1 1121.7,1143.8 1121.7,1145.5 1121.7,1147.2 1121.7,1148.9 1121.7,1150.6 1121.7,1152.3 1121.7,1154.0 1121.7,1155.8 1121.7,1157.5 1121.7,1159.2 1121.7,1160.9 1121.7,1162.5 1121.7,1164.2 1121.7,1165.9 1121.7,1167.6 1121.7,1169.3 1121.7,1171.0 1121.7,1172.7 1121.7,1174.3 1121.7,1176.0 1121.7,1177.7 1121.7,1179.3 1121.7,1181.0 1121.7,1182.7 1121.7,1184.3 1121.7,1186.0 1121.7,1187.6 1121.7,1189.3 1121.7,1190.9 1121.7,1192.6 1121.7,1194.2 1121.7,1195.9 1121.7,1197.5 1121.7,1199.1 1121.7,1200.8 1121.7,1202.4 1121.7,1204.0 1121.7,1205.6 1121.7,1207.2 1121.7,1208.9 1121.7,1210.5 1121.7,1212.1 1121.7,1213.7 1121.7,1215.3 1121.7,1216.9 1121.7,1218.5 1121.7,1220.1 1121.7,1221.7 1121.7,1223.2 1121.7,1224.8 1121.7,1226.4 1121.7,1228.0 1121.7,1229.5 1121.7,1231.1 1121.7,1232.7 1121.7,1234.2 1121.7,1235.8 1121.7,1237.3 1121.7,1238.9 1121.7,1240.4 1121.7,1242.0 1121.7,1243.5 1121.7,1245.1 1121.7,1246.6 1121.7,1248.1 1121.7,1249.6 1121.7,1251.2 1121.7,1252.7 1121.7,1254.2 1121.7,1255.7 1121.7,1257.2 1121.7,1258.7 1121.7,1260.2 1121.7,1261.7 1121.7,1263.2 1121.7,1264.7 1121.7,1266.1 1121.7,1267.6 1121.7,1269.1 1121.7,1270.6 1121.7,1272.0 1121.7,1273.5 1121.7,1274.9 1121.7,1276.4 1121.7,1277.8 1121.7,1279.3 1121.7,1280.7 1121.7,1282.2 1121.7,1283.6 1121.7,1285.0 1121.7,1286.4 1121.7,1287.9 1121.7,1289.3 1121.7,1290.7 1121.7,1292.1 1121.7,1293.5 1121.7,1294.9 1121.7,1296.3 1121.7,1297.7 1121.7,1299.0 1121.7,1300.4 1121.7,1301.8 1121.7,1303.2 1121.7,1304.5 1121.7,1305.9 1121.7,1307.2 1121.7,1308.6 1121.7,1309.9 1121.7,1311.3 1121.7,1312.6 1121.7,1313.9 1121.7,1315.3 1121.7,1316.6 1121.7,1317.9 1121.7,1319.2 1121.7,1320.5 1121.7,1321.8 1121.7,1323.1 1121.7,1324.4 1121.7,1325.7 1121.7,1327.0 1121.7,1328.3 1121.7,1329.5 1121.7,1330.8 1121.7,1332.1 1121.7,1333.3 1121.7,1334.6 1121.7,1335.8 1121.7,1337.1 1121.7,1338.3 1121.7,1339.5 1121.7,1340.8 1121.7,1342.0 1121.7,1343.2 1121.7,1344.4 1121.7,1345.6 1121.7,1346.8 1121.7,1348.0 1121.7,1349.2 1121.7,1350.4 1121.7,1351.6 1121.7,1352.7 1121.7,1353.9 1121.7,1355.1 1121.7,1356.2 1121.7,1357.4 1121.7,1358.5 1121.7,1359.7 1121.7,1360.8 1121.7,1361.9 1121.7,1363.0 1121.7,1364.2 1121.7,1365.3 1121.7,1366.4 1121.7,1367.5 1121.7,1368.6 1121.7,1369.6 1121.7,1370.7 1121.7,1371.8 1121.8,1372.9 1121.8,1373.9 1121.8,1375.0 1121.8,1376.1 1121.8,1377.1 1121.8,1378.1 1121.8,1379.2 1121.8,1380.2 1121.8,1381.2 1121.8,1382.2 1121.8,1383.3 1121.8,1384.3 1121.8,1385.3 1121.8,1386.2 1121.8,1387.2 1121.8,1388.2 1121.8,1389.2 1121.8,1390.2 1121.8,1391.1 1121.8,1392.1 1121.8,1393.0 1121.8,1394.0 1121.8,1394.9 1121.8,1395.8 1121.8,1396.7 1121.8,1397.7 1121.8,1398.6 1121.8,1399.5 1121.8,1400.4 1121.8,1401.3 1121.8,1402.1 1121.8,1403.0 1121.8,1403.9 1121.8,1404.8 1121.8,1405.6 1121.8,1406.5 1121.8,1407.3 1121.8,1408.1 1121.8,1409.0 1121.8,1409.8 1121.8,1410.6 1121.8,1411.4 1121.8,1412.2 1121.9,1413.0 1121.9,1413.8 1121.9,1414.6 1121.9,1415.4 1121.9,1416.1 1121.9,1416.9 1121.9,1417.7 1121.9,1418.4 1121.9,1419.1 1121.9,1419.9 1121.9,1420.6 1121.9,1421.3 1121.9,1422.0 1121.9,1422.7 1121.9,1423.4 1121.9,1424.1 1121.9,1424.8 1121.9,1425.5 1121.9,1426.2 1121.9,1426.8 1121.9,1427.5 1121.9,1428.1 1121.9,1428.8 1121.9,1429.4 1121.9,1430.0 1121.9,1430.6 1121.9,1431.3 1121.9,1431.9 1121.9,1432.5 1121.9,1433.0 1122.0,1433.6 1122.0,1434.2 1122.0,1434.8 1122.0,1435.3 1122.0,1435.9 1122.0,1436.4 1122.0,1437.0 1122.0,1437.5 1122.0,1438.0 1122.0,1438.5 1122.0,1439.0 1122.0,1439.5 1122.0,1440.0 1122.0,1442.5 1122.0,1444.7 1122.1,1446.8 1122.1,1448.7 1122.1,1450.4 1122.1,1452.1 1122.2,1453.6 1122.2,1455.0 1122.2,1456.3 1122.3,1457.6 1122.3,1458.8 1122.3,1460.0 1122.3,1461.2 1122.4,1462.4 1122.4,1463.6 1122.4,1464.8 1122.4,1466.1 1122.5,1467.5 1122.5,1469.0" fill="none" stroke="#ff0000" stroke-width="6.6" stroke-linejoin="round" stroke-linecap="butt"/>
<polyline points="278.0,1469.0 278.0,1467.5 278.1,1466.0 278.1,1464.5 278.1,1463.0 278.1,1461.6 278.2,1460.2 278.2,1458.8 278.2,1457.3 278.2,1455.9 278.2,1454.5 278.3,1453.1 278.3,1451.7 278.3,1450.3 278.3,1448.9 278.3,1447.5 278.4,1446.1 278.4,1444.6 278.4,1443.2 278.4,1441.7 278.5,1440.2 278.5,1438.7 278.5,1437.2 278.5,1435.6 278.6,1434.0 278.6,1432.4 278.7,1430.7 278.7,1429.1 278.8,1427.3 278.8,1425.6 278.9,1423.8 278.9,1421.9 279.0,1420.0 279.0,1418.9 279.1,1417.7 279.1,1416.5 279.2,1415.3 279.2,1414.0 279.3,1412.8 279.3,1411.5 279.4,1410.2 279.4,1408.8 279.5,1407.4 279.5,1406.1 279.6,1404.6 279.6,1403.2 279.7,1401.8 279.8,1400.3 279.8,1398.8 279.9,1397.3 280.0,1395.7 280.0,1394.2 280.1,1392.6 280.1,1391.0 280.2,1389.5 280.3,1387.8 280.4,1386.2 280.4,1384.6 280.5,1382.9 280.6,1381.3 280.6,1379.6 280.7,1377.9 280.8,1376.2 280.9,1374.5 281.0,1372.8 281.0,1371.1 281.1,1369.4 281.2,1367.6 281.3,1365.9 281.4,1364.2 281.4,1362.4 281.5,1360.7 281.6,1358.9 281.7,1357.2 281.8,1355.4 281.9,1353.7 281.9,1351.9 282.0,1350.2 282.1,1348.4 282.2,1346.6 282.3,1344.9 282.4,1343.2 282.4,1341.4 282.5,1339.7 282.6,1337.9 282.7,1336.2 282.8,1334.5 282.9,1332.8 283.0,1331.1 283.1,1329.4 283.1,1327.7 283.2,1326.0 283.3,1324.4 283.4,1322.7 283.5,1321.1 283.6,1319.4 283.7,1317.8 283.8,1316.2 283.8,1314.6 283.9,1313.1 284.0,1311.5 284.1,1310.0 284.2,1308.5 284.3,1307.0 284.4,1305.5 284.4,1304.0 284.5,1302.6 284.6,1301.2 284.7,1299.8 284.8,1298.4 284.9,1297.0 284.9,1295.7 285.0,1294.4 285.1,1293.1 285.2,1291.9 285.3,1290.7 285.3,1289.5 285.4,1288.3 285.5,1287.1 285.6,1286.0 285.6,1284.9 285.7,1283.9 285.8,1282.9 285.9,1281.9 285.9,1280.9 286.0,1280.0 286.2,1278.0 286.3,1276.1 286.5,1274.4 286.6,1272.9 286.8,1271.5 286.9,1270.2 287.1,1268.9 287.2,1267.7 287.4,1266.5 287.5,1265.2 287.7,1263.9 287.8,1262.6 288.0,1261.2 288.1,1259.6 288.3,1257.9 288.5,1256.1 288.7,1254.0 288.8,1253.1 288.9,1252.2 288.9,1251.2 289.0,1250.2 289.1,1249.2 289.2,1248.1 289.3,1247.0 289.4,1245.9 289.5,1244.7 289.6,1243.6 289.7,1242.4 289.8,1241.1 289.9,1239.8 290.0,1238.6 290.1,1237.2 290.2,1235.9 290.3,1234.5 290.4,1233.1 290.5,1231.7 290.6,1230.3 290.7,1228.8 290.8,1227.3 290.9,1225.8 291.0,1224.3 291.1,1222.8 291.2,1221.2 291.3,1219.6 291.5,1218.1 291.6,1216.4 291.7,1214.8 291.8,1213.2 291.9,1211.5 292.0,1209.9 292.1,1208.2 292.3,1206.5 292.4,1204.8 292.5,1203.1 292.6,1201.3 292.7,1199.6 292.9,1197.9 293.0,1196.1 293.1,1194.3 293.2,1192.6 293.4,1190.8 293.5,1189.0 293.6,1187.2 293.7,1185.4 293.9,1183.7 294.0,1181.9 294.1,1180.1 294.2,1178.3 294.4,1176.5 294.5,1174.7 294.6,1172.9 294.8,1171.1 294.9,1169.3 295.0,1167.5 295.2,1165.7 295.3,1163.9 295.4,1162.1 295.5,1160.3 295.7,1158.5 295.8,1156.8 295.9,1155.0 296.1,1153.3 296.2,1151.5 296.3,1149.8 296.5,1148.1 296.6,1146.3 296.7,1144.6 296.9,1142.9 297.0,1141.3 297.1,1139.6 297.3,1138.0 297.4,1136.3 297.5,1134.7 297.6,1133.1 297.8,1131.5 297.9,1129.9 298.0,1128.4 298.2,1126.8 298.3,1125.3 298.4,1123.8 298.6,1122.3 298.7,1120.9 298.8,1119.4 298.9,1118.0 299.1,1116.6 299.2,1115.3 299.3,1113.9 299.4,1112.6 299.6,1111.3 299.7,1110.1 299.8,1108.8 299.9,1107.6 300.1,1106.4 300.2,1105.3 300.3,1104.2 300.4,1103.1 300.6,1102.0 300.7,1101.0 300.8,1100.0 301.1,1098.0 301.3,1096.0 301.6,1094.1 301.8,1092.3 302.1,1090.5 302.3,1088.9 302.6,1087.2 302.8,1085.7 303.1,1084.1 303.3,1082.7 303.6,1081.2 303.8,1079.8 304.1,1078.4 304.3,1077.0 304.6,1075.6 304.9,1074.3 305.1,1072.9 305.4,1071.6 305.6,1070.2 305.9,1068.8 306.2,1067.4 306.4,1066.0 306.7,1064.5 307.0,1062.9 307.3,1061.4 307.6,1059.8 307.9,1058.2 308.1,1056.7 308.4,1055.2 308.7,1053.6 309.0,1052.1 309.3,1050.6 309.6,1049.1 309.9,1047.6 310.2,1046.1 310.5,1044.6 310.8,1043.1 311.1,1041.5 311.4,1040.0 311.8,1038.5 312.1,1037.0 312.5,1035.5 312.8,1034.0 313.2,1032.5 313.5,1030.9 313.9,1029.3 314.2,1027.8 314.6,1026.2 314.9,1024.6 315.3,1023.0 315.7,1021.4 316.0,1019.8 316.4,1018.2 316.8,1016.7 317.2,1015.1 317.6,1013.6 318.1,1012.1 318.5,1010.6 318.9,1009.1 319.4,1007.7 319.9,1006.3 320.4,1004.9 320.9,1003.6 321.6,1002.0 322.2,1000.4 322.9,998.8 323.6,997.2 324.3,995.7 325.0,994.2 325.7,992.7 326.5,991.3 327.3,990.0 328.2,988.7 329.0,987.5 330.0,986.4 331.0,985.4 332.2,984.3 333.5,983.2 334.9,982.2 336.4,981.3 337.8,980.4 339.3,979.7 340.9,979.1 342.4,978.7 343.8,978.4 345.3,978.3 346.7,978.4 348.2,978.7 349.7,979.2 351.1,979.8 352.6,980.6 354.0,981.5 355.5,982.4 356.8,983.4 358.2,984.4 359.5,985.4 360.6,986.3 361.8,987.4 362.8,988.4 363.9,989.6 364.9,990.7 365.9,992.0 366.9,993.2 367.9,994.5 368.9,995.8 369.8,997.0 370.8,998.3 371.7,999.6 372.6,1000.9 373.5,1002.3 374.3,1003.7 375.1,1005.1 375.9,1006.6 376.7,1008.0 377.5,1009.4 378.3,1010.8 379.2,1012.2 380.0,1013.5 380.9,1014.7 381.8,1015.8 383.0,1017.1 384.2,1018.4 385.4,1019.7 386.6,1020.9 387.9,1021.9 389.2,1022.8 390.6,1023.5 392.0,1024.0 393.4,1024.2 394.9,1024.2 396.4,1023.9 398.0,1023.6 399.7,1023.1 401.3,1022.6 402.9,1022.0 404.6,1021.4 406.2,1020.9 407.6,1020.4 409.1,1019.9 410.5,1019.4 412.0,1018.8 413.5,1018.3 414.9,1017.7 416.4,1017.1 417.9,1016.5 419.4,1015.9 420.9,1015.3 422.4,1014.8 423.8,1014.3 425.2,1013.9 426.7,1013.4 428.1,1013.0 429.5,1012.5 431.0,1012.1 432.4,1011.7 433.9,1011.3 435.4,1010.9 436.9,1010.5 438.4,1010.1 440.0,1009.7 441.4,1009.4 442.9,1009.0 444.4,1008.7 445.9,1008.4 447.5,1008.1 449.0,1007.8 450.6,1007.5 452.2,1007.2 453.8,1006.9 455.3,1006.6 456.9,1006.3 458.5,1006.0 460.1,1005.7 461.6,1005.4 463.2,1005.1 464.7,1004.8 466.3,1004.5 467.8,1004.2 469.4,1003.9 470.9,1003.7 472.5,1003.4 474.0,1003.1 475.6,1002.8 477.1,1002.5 478.7,1002.2 480.2,1001.9 481.8,1001.6 483.3,1001.2 484.9,1000.9 486.4,1000.5 487.9,1000.1 489.3,999.7 490.8,999.3 492.2,998.9 493.7,998.4 495.1,997.9 496.6,997.5 498.0,997.0 499.4,996.5 500.9,996.1 502.3,995.6 503.8,995.1 505.2,994.7 506.7,994.3 508.1,993.9 509.6,993.5 511.1,993.1 512.7,992.8 514.2,992.4 515.8,992.1 517.3,991.8 518.9,991.5 520.4,991.2 522.0,990.9 523.5,990.6 525.1,990.4 526.6,990.1 528.2,989.8 529.7,989.5 531.3,989.2 532.8,988.9 534.3,988.6 535.9,988.3 537.4,987.9 539.0,987.6 540.5,987.3 542.1,986.9 543.6,986.6 545.2,986.3 546.7,986.0 548.3,985.6 549.8,985.3 551.4,985.0 552.9,984.7 554.4,984.5 556.0,984.2 557.5,984.0 559.1,983.7 560.6,983.5 562.2,983.3 563.7,983.1 565.3,982.8 566.8,982.6 568.4,982.5 569.9,982.3 571.5,982.1 573.0,981.9 574.6,981.7 576.1,981.6 577.7,981.4 579.2,981.2 580.7,981.0 582.3,980.9 583.8,980.7 585.4,980.5 586.9,980.4 588.5,980.2 590.0,980.0 591.6,979.9 593.1,979.7 594.7,979.6 596.2,979.4 597.8,979.3 599.3,979.2 600.9,979.0 602.4,978.9 603.9,978.8 605.5,978.6 607.0,978.5 608.6,978.4 610.1,978.3 611.7,978.2 613.2,978.0 614.8,977.9 616.3,977.8 617.9,977.7 619.4,977.6 621.0,977.5 622.5,977.5 624.1,977.4 625.6,977.3 627.1,977.2 628.7,977.2 630.2,977.1 631.8,977.1 633.3,977.1 634.9,977.1 636.4,977.0 638.0,977.0 639.5,977.0 641.1,977.0 642.6,977.0 644.2,976.9 645.7,976.9 647.3,976.9 648.8,976.8 650.3,976.7 651.9,976.7 653.4,976.6 655.0,976.6 656.5,976.5 658.1,976.5 659.6,976.4 661.2,976.3 662.7,976.2 664.3,976.2 665.8,976.1 667.4,976.0 668.9,975.9 670.5,975.7 672.0,975.6 673.5,975.5 675.1,975.3 676.6,975.1 678.2,974.9 679.7,974.7 681.3,974.5 682.8,974.3 684.4,974.1 685.9,973.9 687.5,973.7 689.0,973.4 690.6,973.2 692.1,973.0 693.7,972.8 695.2,972.6 696.7,972.4 698.3,972.2 699.8,972.0 701.4,971.8 702.9,971.6 704.5,971.4 706.0,971.3 707.6,971.1 709.1,970.9 710.7,970.7 712.2,970.5 713.8,970.3 715.3,970.0 716.9,969.8 718.4,969.6 719.9,969.4 721.5,969.2 723.1,968.9 724.6,968.7 726.2,968.5 727.7,968.3 729.3,968.1 730.8,967.8 732.4,967.6 733.9,967.3 735.5,967.1 737.0,966.8 738.5,966.4 740.1,966.1 741.6,965.7 743.1,965.3 744.5,964.9 746.0,964.4 747.4,963.9 748.9,963.4 750.3,962.9 751.8,962.4 753.2,961.9 754.7,961.3 756.1,960.8 757.6,960.2 759.0,959.6 760.5,959.1 761.9,958.5 763.4,958.0 764.8,957.5 766.3,957.0 767.7,956.5 769.2,956.0 770.8,955.5 772.3,955.0 773.8,954.5 775.3,954.1 776.8,953.6 778.3,953.1 779.8,952.6 781.2,952.1 782.7,951.6 784.1,951.0 785.4,950.5 786.7,950.0 788.0,949.4 789.6,948.7 791.1,947.9 792.6,947.2 794.0,946.4 795.3,945.7 796.7,944.9 798.0,944.0 799.3,943.2 800.7,942.3 802.0,941.3 803.2,940.4 804.4,939.4 805.6,938.4 806.7,937.4 807.9,936.3 809.0,935.2 810.2,934.1 811.3,933.0 812.4,931.8 813.6,930.7 814.7,929.6 815.9,928.5 817.0,927.5 818.1,926.4 819.3,925.3 820.4,924.3 821.5,923.2 822.7,922.1 823.8,921.0 824.9,920.0 826.1,918.9 827.2,917.9 828.3,916.8 829.4,915.8 830.5,914.8 831.7,913.7 832.8,912.7 834.0,911.6 835.1,910.6 836.3,909.6 837.4,908.6 838.5,907.6 839.7,906.6 840.8,905.6 842.0,904.6 843.2,903.6 844.4,902.6 845.6,901.5 846.8,900.5 848.0,899.4 849.2,898.3 850.5,897.3 851.7,896.3 853.0,895.4 854.3,894.5 855.7,893.7 857.1,893.1 858.5,892.6 860.0,892.3 861.6,892.1 863.2,891.9 864.8,891.8 866.5,891.8 868.1,891.8 869.7,891.7 871.3,891.6 872.9,891.4 874.3,891.2 875.7,890.8 877.3,890.2 878.9,889.5 880.3,888.7 881.7,887.9 883.1,887.0 884.5,886.0 885.9,885.0 887.3,883.9 888.4,883.0 889.6,882.1 890.7,881.0 891.9,880.0 893.0,878.9 894.1,877.8 895.3,876.6 896.4,875.5 897.6,874.4 898.8,873.3 900.0,872.2 901.2,871.1 902.4,870.1 903.6,869.1 904.8,868.1 906.0,867.1 907.2,866.1 908.5,865.1 909.7,864.1 911.0,863.2 912.2,862.2 913.5,861.2 914.8,860.2 916.1,859.3 917.4,858.3 918.6,857.4 919.8,856.6 921.0,855.7 922.2,854.8 923.4,853.9 924.6,853.1 925.8,852.2 927.0,851.4 928.3,850.5 929.5,849.7 930.8,848.8 932.1,848.0 933.4,847.2 934.7,846.4 936.0,845.6 937.3,844.9 938.6,844.1 939.9,843.4 941.2,842.6 942.5,841.9 943.9,841.1 945.3,840.4 946.6,839.7 948.0,839.0 949.4,838.3 950.8,837.6 952.2,837.0 953.6,836.3 955.0,835.7 956.4,835.1 957.8,834.5 959.2,834.0 960.6,833.5 962.1,833.0 963.5,832.5 964.9,832.1 966.4,831.6 967.8,831.2 969.3,830.9 970.7,830.5 972.2,830.1 973.7,829.8 975.1,829.4 976.6,829.1 978.0,828.8 979.5,828.4 980.9,828.1 982.4,827.7 983.9,827.3 985.5,826.9 987.0,826.6 988.6,826.2 990.1,825.8 991.7,825.5 993.2,825.1 994.8,824.8 996.3,824.4 997.9,824.1 999.4,823.7 1001.0,823.4 1002.5,823.1 1004.1,822.7 1005.6,822.4 1007.2,822.1 1008.7,821.7 1010.3,821.4 1011.9,821.1 1013.6,820.8 1015.2,820.5 1016.8,820.2 1018.4,819.8 1019.9,819.5 1021.5,819.2 1023.0,818.9 1024.5,818.6 1026.0,818.3 1027.4,818.0 1028.8,817.7 1030.5,817.3 1032.1,817.0 1033.6,816.6 1035.1,816.3 1036.6,816.0 1038.0,815.6 1039.5,815.2 1041.1,814.7 1042.7,814.2 1044.0,813.8 1045.3,813.3 1046.6,812.8 1048.0,812.2 1049.4,811.7 1050.8,811.1 1052.2,810.5 1053.6,809.9 1055.0,809.2 1056.5,808.6 1057.9,807.9 1059.3,807.2 1060.8,806.5 1062.2,805.7 1063.6,805.0 1064.9,804.3 1066.2,803.6 1067.5,802.8 1068.7,802.0 1070.0,801.2 1071.3,800.4 1072.6,799.5 1073.9,798.6 1075.2,797.8 1076.5,796.9 1077.8,796.0 1079.1,795.1 1080.4,794.2 1081.6,793.4 1082.9,792.5 1084.2,791.6 1085.5,790.7 1086.8,789.9 1088.1,789.1 1089.4,788.2 1090.7,787.3 1091.9,786.5 1093.2,785.6 1094.5,784.7 1095.8,783.9 1097.1,783.0 1098.4,782.2 1099.6,781.3 1100.9,780.4 1102.2,779.6 1103.5,778.8 1104.8,777.9 1106.1,777.1 1107.4,776.3 1108.7,775.6 1110.0,774.8 1111.3,774.0 1112.7,773.3 1114.0,772.5 1115.4,771.8 1116.8,771.1 1118.1,770.4 1119.5,769.7 1120.8,769.0 1122.2,768.3 1123.6,767.7 1124.9,767.0 1126.3,766.4 1127.7,765.7 1129.1,765.1 1130.4,764.4 1131.8,763.8 1133.2,763.2 1134.6,762.6 1136.1,762.0 1137.5,761.4 1138.9,760.8 1140.4,760.3 1141.8,759.7 1143.2,759.2 1144.7,758.7 1146.1,758.1 1147.6,757.6 1149.0,757.0 1150.5,756.5 1152.0,755.9 1153.4,755.2 1154.9,754.6 1156.4,753.9 1157.7,753.3 1159.0,752.6 1160.3,751.9 1161.7,751.2 1163.1,750.5 1164.4,749.8 1165.8,749.0 1167.2,748.3 1168.5,747.5 1169.9,746.7 1171.3,746.0 1172.7,745.2 1174.0,744.4 1175.4,743.6 1176.7,742.8 1178.1,742.1 1179.4,741.3 1180.7,740.6 1181.9,739.9 1183.2,739.2 1184.4,738.5 1185.9,737.7 1187.3,736.9 1188.8,736.1 1190.2,735.3 1191.5,734.5 1192.9,733.7 1194.3,732.9 1195.6,732.2 1196.9,731.4 1198.3,730.7 1199.6,730.0 1200.9,729.3 1202.3,728.6 1203.6,727.9 1205.1,727.2 1206.5,726.5 1208.0,725.8 1209.4,725.1 1210.8,724.5 1212.3,723.8 1213.7,723.2 1215.2,722.6 1216.6,721.9 1218.1,721.3 1219.5,720.7 1221.0,720.0 1222.4,719.4 1223.9,718.7 1225.3,718.1 1226.8,717.5 1228.2,716.9 1229.7,716.2 1231.2,715.6 1232.7,715.0 1234.1,714.3 1235.6,713.7 1237.1,713.1 1238.5,712.4 1240.0,711.8 1241.5,711.2 1242.9,710.5 1244.4,709.9 1245.8,709.2 1247.3,708.6 1248.7,708.0 1250.2,707.3 1251.6,706.7 1253.1,706.0 1254.5,705.3 1256.0,704.7 1257.4,704.0 1258.9,703.3 1260.3,702.6 1261.7,702.0 1263.1,701.3 1264.5,700.6 1265.9,699.9 1267.3,699.2 1268.7,698.5 1270.1,697.7 1271.5,697.0 1272.9,696.3 1274.3,695.6 1275.7,694.9 1277.2,694.1 1278.6,693.4 1279.9,692.7 1281.2,692.0 1282.6,691.3 1283.9,690.6 1285.2,689.9 1286.6,689.2 1287.9,688.5 1289.3,687.8 1290.6,687.1 1292.0,686.3 1293.3,685.7 1294.7,685.0 1296.0,684.3 1297.4,683.6 1298.7,683.0 1300.0,682.4 1301.5,681.7 1303.1,681.1 1304.6,680.5 1306.2,679.9 1307.7,679.3 1309.3,678.7 1310.8,678.1 1312.4,677.6 1313.8,677.0 1315.3,676.4 1316.6,675.9 1318.0,675.3 1319.2,674.7 1320.8,673.9 1322.2,673.1 1323.5,672.3 1324.8,671.5 1326.1,670.7 1327.5,669.8 1328.9,668.9 1330.1,668.1 1331.3,667.3 1332.6,666.4 1333.9,665.5 1335.2,664.5 1336.5,663.6 1337.9,662.6 1339.2,661.7 1340.6,660.9 1341.9,660.0 1343.3,659.3 1344.7,658.6 1346.1,657.9 1347.5,657.3 1348.9,656.8 1350.3,656.2 1351.8,655.7 1353.2,655.2 1354.7,654.7 1356.2,654.1 1357.7,653.5 1359.1,652.9 1360.5,652.4 1362.0,651.8 1363.4,651.3 1364.9,650.7 1366.4,650.1 1368.0,649.5 1369.5,648.9 1371.0,648.3 1372.5,647.7 1374.0,647.1 1375.5,646.5 1377.0,645.8 1378.4,645.2 1379.8,644.5 1381.1,643.8 1382.5,643.2 1383.9,642.5 1385.2,641.8 1386.6,641.1 1388.0,640.3 1389.3,639.6 1390.7,638.9 1392.1,638.2 1393.4,637.5 1394.8,636.9 1396.2,636.2 1397.6,635.5 1398.9,634.9 1400.3,634.2 1401.7,633.6 1403.1,632.9 1404.4,632.3 1405.8,631.6 1407.2,631.0 1408.6,630.4 1409.9,629.8 1411.3,629.2 1412.7,628.6 1414.1,628.0 1415.5,627.5 1417.0,627.0 1418.4,626.5 1419.9,626.0 1421.4,625.5 1422.8,625.1 1424.3,624.6 1425.8,624.2 1427.3,623.8 1428.8,623.4 1430.2,623.0 1431.7,622.6 1433.2,622.2 1434.7,621.8 1436.2,621.4 1437.7,621.0 1439.2,620.7 1440.7,620.3 1442.2,619.9 1443.8,619.6 1445.3,619.3 1446.8,618.9 1448.3,618.6 1449.7,618.3 1451.2,618.0 1452.6,617.7 1454.0,617.4 1455.7,617.0 1457.4,616.7 1459.1,616.3 1460.8,616.0 1462.5,615.7 1464.1,615.4 1465.6,615.1 1467.0,614.9 1468.4,614.8 1470.3,614.6 1472.1,614.5 1473.8,614.6 1475.2,614.8 1477.0,615.5 1478.3,616.5 1479.1,618.1 1479.6,620.0 1480.0,651.6 1481.0,656.0 1481.0,657.5 1481.0,658.9 1481.0,660.3 1481.0,661.6 1481.0,662.9 1481.0,664.2 1481.0,665.4 1481.0,666.6 1481.0,667.9 1481.0,669.1 1481.0,670.3 1481.0,671.5 1481.0,672.7 1481.0,674.0 1481.0,675.3 1481.0,676.6 1481.0,678.0 1481.0,679.4 1481.0,680.8 1481.0,682.4 1481.0,684.0 1481.0,685.6 1481.0,687.4 1481.0,689.2 1481.0,691.2 1481.0,693.2 1481.0,695.4 1481.0,697.6 1481.0,700.0 1481.0,700.6 1481.0,701.2 1481.0,701.8 1481.0,702.4 1481.0,703.0 1481.0,703.6 1481.0,704.2 1481.0,704.9 1481.0,705.5 1481.0,706.2 1481.0,706.8 1481.0,707.5 1481.0,708.1 1481.0,708.8 1481.0,709.5 1481.0,710.2 1481.0,710.9 1481.0,711.6 1481.0,712.3 1481.0,713.0 1481.0,713.7 1481.0,714.5 1481.0,715.2 1481.0,715.9 1481.0,716.7 1481.0,717.4 1481.0,718.2 1481.0,719.0 1481.0,719.8 1481.0,720.5 1481.0,721.3 1481.0,722.1 1481.0,722.9 1481.0,723.7 1481.0,724.6 1481.0,725.4 1481.0,726.2 1481.0,727.0 1481.0,727.9 1481.0,728.7 1481.0,729.6 1481.0,730.4 1481.0,731.3 1481.0,732.2 1481.0,733.1 1481.0,734.0 1481.0,734.8 1481.0,735.7 1481.0,736.6 1481.0,737.6 1481.0,738.5 1481.0,739.4 1481.0,740.3 1481.0,741.3 1481.0,742.2 1481.0,743.1 1481.0,744.1 1481.0,745.1 1481.0,746.0 1481.0,747.0 1481.0,748.0 1481.0,749.0 1481.0,749.9 1481.0,750.9 1481.0,751.9 1481.0,752.9 1481.0,754.0 1481.0,755.0 1481.0,756.0 1481.0,757.0 1481.0,758.1 1481.0,759.1 1481.0,760.2 1481.0,761.2 1481.0,762.3 1481.0,763.3 1481.0,764.4 1481.0,765.5 1481.0,766.6 1481.0,767.6 1481.0,768.7 1481.0,769.8 1481.0,770.9 1481.0,772.0 1481.0,773.2 1481.0,774.3 1481.0,775.4 1481.0,776.5 1481.0,777.7 1481.0,778.8 1481.0,779.9 1481.0,781.1 1481.0,782.2 1481.0,783.4 1481.0,784.6 1481.0,785.7 1481.0,786.9 1481.0,788.1 1481.0,789.3 1481.0,790.5 1481.0,791.7 1481.0,792.9 1481.0,794.1 1481.0,795.3 1481.0,796.5 1481.0,797.7 1481.0,799.0 1481.0,800.2 1481.0,801.4 1481.0,802.7 1481.0,803.9 1481.0,805.2 1481.0,806.4 1481.0,807.7 1481.0,809.0 1481.0,810.2 1481.0,811.5 1481.0,812.8 1481.0,814.1 1481.0,815.4 1481.0,816.7 1481.0,818.0 1481.0,819.3 1481.0,820.6 1481.0,821.9 1481.0,823.2 1481.0,824.5 1481.0,825.9 1481.0,827.2 1481.0,828.5 1481.0,829.9 1481.0,831.2 1481.0,832.6 1481.0,833.9 1481.0,835.3 1481.0,836.6 1481.0,838.0 1481.0,839.4 1481.0,840.7 1481.0,842.1 1481.0,843.5 1481.0,844.9 1481.0,846.3 1481.0,847.7 1481.0,849.1 1481.0,850.5 1481.0,851.9 1481.0,853.3 1481.0,854.7 1481.0,856.1 1481.0,857.6 1481.0,859.0 1481.0,860.4 1481.0,861.9 1481.0,863.3 1481.0,864.8 1481.0,866.2 1481.0,867.7 1481.0,869.1 1481.0,870.6 1481.0,872.0 1481.0,873.5 1481.0,875.0 1481.0,876.5 1481.0,877.9 1481.0,879.4 1481.0,880.9 1481.0,882.4 1481.0,883.9 1481.0,885.4 1481.0,886.9 1481.0,888.4 1481.0,889.9 1481.0,891.4 1481.0,892.9 1481.0,894.5 1481.0,896.0 1481.0,897.5 1481.0,899.0 1481.0,900.6 1481.0,902.1 1481.0,903.6 1481.0,905.2 1481.0,906.7 1481.0,908.3 1481.0,909.8 1481.0,911.4 1481.0,912.9 1481.0,914.5 1481.0,916.1 1481.0,917.6 1481.0,919.2 1481.0,920.8 1481.0,922.4 1481.0,924.0 1481.0,925.5 1481.0,927.1 1481.0,928.7 1481.0,930.3 1481.0,931.9 1481.0,933.5 1481.0,935.1 1481.0,936.7 1481.0,938.3 1481.0,939.9 1481.0,941.6 1481.0,943.2 1481.0,944.8 1481.0,946.4 1481.0,948.0 1481.0,949.7 1481.0,951.3 1481.0,952.9 1481.0,954.6 1481.0,956.2 1481.0,957.9 1481.0,959.5 1481.0,961.1 1481.0,962.8 1481.0,964.4 1481.0,966.1 1481.0,967.8 1481.0,969.4 1481.0,971.1 1481.0,972.7 1481.0,974.4 1481.0,976.1 1481.0,977.8 1481.0,979.4 1481.0,981.1 1481.0,982.8 1481.0,984.5 1481.0,986.2 1481.0,987.8 1481.0,989.5 1481.0,991.2 1481.0,992.9 1481.0,994.6 1481.0,996.3 1481.0,998.0 1481.0,999.7 1481.0,1001.4 1481.0,1003.1 1481.0,1004.8 1481.0,1006.5 1481.0,1008.3 1481.0,1010.0 1481.0,1011.7 1481.0,1013.4 1481.0,1015.1 1481.0,1016.8 1481.0,1018.6 1481.0,1020.3 1481.0,1022.0 1481.0,1023.8 1481.0,1025.5 1481.0,1027.2 1481.0,1029.0 1481.0,1030.7 1481.0,1032.4 1481.0,1034.2 1481.0,1035.9 1481.0,1037.7 1481.0,1039.4 1481.0,1041.1 1481.0,1042.9 1481.0,1044.6 1481.0,1046.4 1481.0,1048.2 1481.0,1049.9 1481.0,1051.7 1481.0,1053.4 1481.0,1055.2 1481.0,1056.9 1481.0,1058.7 1481.0,1060.5 1481.0,1062.2 1481.0,1064.0 1481.0,1065.8 1481.0,1067.5 1481.0,1069.3 1481.0,1071.1 1481.0,1072.8 1481.0,1074.6 1481.0,1076.4 1481.0,1078.2 1481.0,1080.0 1481.0,1081.7 1481.0,1083.5 1481.0,1085.3 1481.0,1087.1 1481.0,1088.9 1481.0,1090.6 1481.0,1092.4 1481.0,1094.2 1481.0,1096.0 1481.0,1097.8 1481.0,1099.6 1481.0,1101.4 1481.0,1103.2 1481.0,1104.9 1481.0,1106.7 1481.0,1108.5 1481.0,1110.3 1481.0,1112.1 1481.0,1113.9 1481.0,1115.7 1481.0,1117.5 1481.0,1119.3 1481.0,1121.1 1481.0,1122.9 1481.0,1124.7 1481.0,1126.5 1481.0,1128.3 1481.0,1130.1 1481.0,1131.9 1481.0,1133.7 1481.0,1135.5 1481.0,1137.3 1481.0,1139.1 1481.0,1140.9 1481.0,1142.7 1481.0,1144.5 1481.0,1146.4 1481.0,1148.2 1481.0,1150.0 1481.0,1151.8 1481.0,1153.6 1481.0,1155.4 1481.0,1157.2 1481.0,1159.0 1481.0,1160.8 1481.0,1162.6 1481.0,1164.4 1481.0,1166.2 1481.0,1168.0 1481.0,1169.9 1481.0,1171.7 1481.0,1173.5 1481.0,1175.3 1481.0,1177.1 1481.0,1178.9 1481.0,1180.7 1481.0,1182.5 1481.0,1184.3 1481.0,1186.1 1481.0,1187.9 1481.0,1189.8 1481.0,1191.6 1481.0,1193.4 1481.0,1195.2 1481.0,1197.0 1481.0,1198.8 1481.0,1200.6 1481.0,1202.4 1481.0,1204.2 1481.0,1206.0 1481.0,1207.8 1481.0,1209.6 1481.0,1211.4 1481.0,1213.3 1481.0,1215.1 1481.0,1216.9 1481.0,1218.7 1481.0,1220.5 1481.0,1222.3 1481.0,1224.1 1481.0,1225.9 1481.0,1227.7 1481.0,1229.5 1481.0,1231.3 1481.0,1233.1 1481.0,1234.9 1481.0,1236.7 1481.0,1238.5 1481.0,1240.3 1481.0,1242.1 1481.0,1243.9 1481.0,1245.7 1481.0,1247.5 1481.0,1249.2 1481.0,1251.0 1481.0,1252.8 1481.0,1254.6 1481.0,1256.4 1481.0,1258.2 1481.0,1260.0 1481.0,1261.8 1481.0,1263.6 1481.0,1265.3 1481.0,1267.1 1481.0,1268.9 1481.0,1270.7 1481.0,1272.5 1481.0,1274.3 1481.0,1276.0 1481.0,1277.8 1481.0,1279.6 1481.0,1281.4 1481.0,1283.1 1481.0,1284.9 1481.0,1286.7 1481.0,1288.4 1481.0,1290.2 1481.0,1292.0 1481.0,1293.7 1481.0,1295.5 1481.0,1297.3 1481.0,1299.0 1481.0,1300.8 1481.0,1302.6 1481.0,1304.3 1481.0,1306.1 1481.0,1307.8 1481.0,1309.6 1481.0,1311.3 1481.0,1313.1 1481.0,1314.8 1481.0,1316.6 1481.0,1318.3 1481.0,1320.1 1481.0,1321.8 1481.0,1323.5 1481.0,1325.3 1481.0,1327.0 1481.0,1328.7 1481.0,1330.5 1481.0,1332.2 1481.0,1333.9 1481.0,1335.7 1481.0,1337.4 1481.0,1339.1 1481.0,1340.8 1481.0,1342.6 1481.0,1344.3 1481.0,1346.0 1481.0,1347.7 1481.0,1349.4 1481.0,1351.1 1481.0,1352.8 1481.0,1354.5 1481.0,1356.2 1481.0,1357.9 1481.0,1359.6 1481.0,1361.3 1481.0,1363.0 1481.0,1364.7 1481.0,1366.4 1481.0,1368.1 1481.0,1369.8 1481.0,1371.5 1481.0,1373.2 1481.0,1374.8 1481.0,1376.5 1481.0,1378.2 1481.0,1379.9 1481.0,1381.5 1481.0,1383.2 1481.0,1384.9 1481.0,1386.5 1481.0,1388.2 1481.0,1389.8 1481.0,1391.5 1481.0,1393.1 1481.0,1394.8 1481.0,1396.4 1481.0,1398.1 1481.0,1399.7 1481.0,1401.4 1481.0,1403.0 1481.0,1404.6 1481.0,1406.3 1481.0,1407.9 1481.0,1409.5 1481.0,1411.1 1481.0,1412.8 1481.0,1414.4 1481.0,1416.0 1481.0,1417.6 1481.0,1419.2 1481.0,1420.8 1481.0,1422.4 1481.0,1424.0 1481.0,1425.6 1481.0,1427.2 1481.0,1428.8 1481.0,1430.4 1481.0,1432.0 1481.0,1433.5 1481.0,1435.1 1481.0,1436.7 1481.0,1438.3 1481.0,1439.8 1481.0,1441.4 1481.0,1443.0 1481.0,1444.5 1481.0,1446.1 1481.0,1447.6 1481.0,1449.2 1481.0,1450.7 1481.0,1452.3 1481.0,1453.8 1481.0,1455.3 1481.0,1456.9 1481.0,1458.4 1481.0,1459.9 1481.0,1461.4 1481.0,1463.0 1481.0,1464.5 1481.0,1466.0 1481.0,1467.5 1481.0,1469.0" fill="none" stroke="#0000ff" stroke-width="6.6" stroke-linejoin="round" stroke-linecap="butt"/>
<polyline points="278.0,1469.0 278.1,1467.5 278.2,1466.0 278.3,1464.5 278.4,1463.0 278.5,1461.4 278.6,1459.9 278.7,1458.4 278.8,1456.9 278.9,1455.4 279.0,1453.9 279.1,1452.3 279.2,1450.8 279.3,1449.3 279.4,1447.8 279.5,1446.3 279.6,1444.7 279.7,1443.2 279.8,1441.7 279.9,1440.2 280.0,1438.7 280.1,1437.2 280.2,1435.6 280.2,1434.1 280.3,1432.6 280.4,1431.1 280.5,1429.6 280.6,1428.1 280.7,1426.6 280.8,1425.1 280.9,1423.6 281.1,1422.1 281.2,1420.6 281.3,1419.1 281.4,1417.6 281.5,1416.1 281.6,1414.6 281.7,1413.1 281.8,1411.7 281.9,1410.2 282.0,1408.7 282.1,1407.1 282.2,1405.6 282.4,1404.0 282.5,1402.4 282.6,1400.9 282.7,1399.3 282.8,1397.7 282.9,1396.2 283.1,1394.6 283.2,1393.0 283.3,1391.5 283.4,1389.9 283.6,1388.4 283.7,1386.8 283.8,1385.3 283.9,1383.7 284.1,1382.2 284.2,1380.6 284.3,1379.1 284.4,1377.5 284.6,1376.0 284.7,1374.5 284.8,1372.9 284.9,1371.4 285.1,1369.9 285.2,1368.4 285.3,1366.9 285.5,1365.4 285.6,1363.9 285.7,1362.4 285.8,1360.9 286.0,1359.4 286.1,1358.0 286.2,1356.5 286.4,1355.0 286.5,1353.6 286.6,1352.0 286.8,1350.4 286.9,1348.8 287.1,1347.2 287.2,1345.6 287.4,1344.0 287.5,1342.5 287.6,1340.9 287.8,1339.3 287.9,1337.8 288.1,1336.2 288.2,1334.7 288.3,1333.1 288.5,1331.6 288.6,1330.1 288.8,1328.6 288.9,1327.0 289.1,1325.5 289.2,1324.0 289.4,1322.5 289.5,1321.1 289.7,1319.6 289.9,1318.1 290.0,1316.7 290.2,1315.2 290.4,1313.8 290.5,1312.3 290.7,1310.9 290.9,1309.5 291.1,1307.9 291.3,1306.3 291.6,1304.7 291.8,1303.2 292.0,1301.6 292.3,1300.1 292.5,1298.6 292.7,1297.1 293.0,1295.6 293.2,1294.1 293.5,1292.6 293.7,1291.2 294.0,1289.7 294.3,1288.2 294.5,1286.8 294.8,1285.3 295.0,1283.8 295.3,1282.3 295.6,1280.9 295.9,1279.4 296.1,1277.9 296.4,1276.4 296.7,1274.9 296.9,1273.4 297.2,1271.9 297.5,1270.3 297.8,1268.8 298.0,1267.3 298.3,1265.8 298.6,1264.2 298.9,1262.7 299.2,1261.2 299.5,1259.7 299.7,1258.2 300.0,1256.6 300.3,1255.1 300.7,1253.6 301.0,1252.1 301.3,1250.6 301.6,1249.1 301.9,1247.7 302.3,1246.2 302.6,1244.7 303.0,1243.3 303.4,1241.7 303.8,1240.2 304.2,1238.6 304.6,1237.0 305.0,1235.5 305.5,1233.9 305.9,1232.4 306.4,1230.9 306.8,1229.3 307.3,1227.8 307.7,1226.3 308.2,1224.8 308.7,1223.3 309.2,1221.8 309.7,1220.4 310.2,1218.9 310.7,1217.5 311.3,1216.1 311.8,1214.7 312.4,1213.2 313.0,1211.7 313.6,1210.2 314.3,1208.8 314.9,1207.3 315.6,1205.9 316.2,1204.4 316.9,1203.0 317.6,1201.6 318.3,1200.3 319.0,1198.9 319.8,1197.6 320.5,1196.3 321.3,1195.0 322.0,1193.8 322.8,1192.6 323.7,1191.2 324.7,1189.8 325.6,1188.4 326.6,1187.1 327.6,1185.7 328.6,1184.5 329.6,1183.2 330.7,1182.1 331.7,1181.0 332.8,1180.0 333.9,1179.1 335.0,1178.3 336.5,1177.4 338.1,1176.6 339.6,1176.0 341.2,1175.5 342.8,1175.2 344.4,1175.0 346.0,1175.0 347.6,1175.2 349.2,1175.5 350.8,1176.1 352.4,1176.8 354.0,1177.6 355.5,1178.4 357.0,1179.4 358.2,1180.3 359.3,1181.2 360.4,1182.3 361.5,1183.5 362.6,1184.7 363.6,1185.9 364.7,1187.1 365.8,1188.3 366.9,1189.4 368.0,1190.4 369.3,1191.5 370.7,1192.6 372.1,1193.8 373.5,1194.8 374.9,1195.8 376.2,1196.7 377.6,1197.4 379.0,1198.0 380.7,1198.5 382.5,1198.8 384.2,1198.9 386.0,1198.9 387.9,1198.8 389.3,1198.6 390.7,1198.4 392.2,1198.0 393.8,1197.6 395.3,1197.1 396.9,1196.6 398.5,1196.1 400.1,1195.6 401.7,1195.2 403.3,1194.8 404.8,1194.4 406.4,1194.1 407.9,1193.7 409.4,1193.4 410.9,1193.1 412.4,1192.7 414.0,1192.4 415.5,1192.1 417.1,1191.8 418.8,1191.5 420.2,1191.3 421.7,1191.0 423.1,1190.8 424.6,1190.6 426.2,1190.4 427.7,1190.2 429.3,1190.0 430.8,1189.8 432.4,1189.7 433.9,1189.5 435.5,1189.3 437.0,1189.0 438.5,1188.8 440.0,1188.6 441.5,1188.4 443.0,1188.1 444.5,1187.8 446.0,1187.6 447.5,1187.3 448.9,1187.0 450.4,1186.7 451.9,1186.4 453.3,1186.2 454.8,1185.9 456.3,1185.6 457.7,1185.4 459.2,1185.1 460.7,1184.9 462.2,1184.6 463.6,1184.4 465.1,1184.2 466.6,1183.9 468.1,1183.7 469.6,1183.5 471.1,1183.3 472.6,1183.0 474.0,1182.8 475.5,1182.6 477.0,1182.4 478.5,1182.2 480.1,1182.0 481.7,1181.8 483.3,1181.6 484.9,1181.3 486.5,1181.1 488.1,1180.9 489.7,1180.7 491.3,1180.5 492.9,1180.3 494.5,1180.1 496.1,1179.9 497.7,1179.7 499.3,1179.5 500.9,1179.2 502.5,1179.0 504.1,1178.8 505.7,1178.5 507.3,1178.3 509.0,1178.0 510.6,1177.8 512.2,1177.6 513.8,1177.4 515.4,1177.2 517.0,1177.0 518.6,1176.9 520.2,1176.7 521.8,1176.6 523.4,1176.5 525.0,1176.4 526.6,1176.4 528.2,1176.3 529.8,1176.2 531.4,1176.1 533.0,1176.1 534.6,1176.0 536.2,1175.9 537.8,1175.8 539.4,1175.7 541.0,1175.6 542.6,1175.5 544.2,1175.4 545.8,1175.3 547.5,1175.2 549.1,1175.1 550.7,1175.0 552.3,1174.9 553.9,1174.8 555.5,1174.7 557.1,1174.6 558.7,1174.5 560.3,1174.5 561.9,1174.4 563.5,1174.3 565.1,1174.3 566.7,1174.2 568.3,1174.2 569.9,1174.1 571.5,1174.1 573.1,1174.0 574.7,1174.0 576.3,1174.0 577.9,1174.0 579.5,1174.0 581.1,1174.0 582.7,1174.0 584.4,1174.0 586.0,1174.0 587.6,1174.0 589.2,1174.0 590.8,1174.0 592.4,1174.0 594.0,1174.0 595.6,1174.0 597.2,1173.9 598.8,1173.9 600.4,1173.8 602.0,1173.7 603.6,1173.7 605.2,1173.6 606.8,1173.5 608.4,1173.4 610.0,1173.4 611.6,1173.3 613.2,1173.2 614.8,1173.1 616.4,1173.0 618.0,1173.0 619.6,1172.9 621.2,1172.8 622.9,1172.7 624.5,1172.6 626.1,1172.5 627.7,1172.5 629.3,1172.4 630.9,1172.3 632.5,1172.2 634.1,1172.1 635.7,1172.0 637.3,1171.9 638.9,1171.9 640.5,1171.8 642.1,1171.7 643.7,1171.6 645.3,1171.5 646.9,1171.4 648.5,1171.3 650.1,1171.2 651.7,1171.1 653.3,1171.0 654.9,1170.9 656.5,1170.7 658.1,1170.6 659.7,1170.5 661.4,1170.3 663.0,1170.2 664.6,1170.0 666.2,1169.9 667.8,1169.7 669.4,1169.5 671.0,1169.3 672.6,1169.1 674.2,1168.8 675.8,1168.6 677.4,1168.3 679.0,1168.0 680.6,1167.7 682.2,1167.4 683.8,1167.1 685.4,1166.8 687.0,1166.5 688.6,1166.2 690.2,1165.9 691.7,1165.6 693.2,1165.4 694.7,1165.1 696.1,1164.8 697.6,1164.6 699.1,1164.3 700.6,1164.0 702.1,1163.7 703.6,1163.5 705.0,1163.2 706.5,1162.9 708.0,1162.7 709.5,1162.4 711.1,1162.1 712.7,1161.8 714.3,1161.6 715.9,1161.3 717.5,1161.0 719.1,1160.8 720.7,1160.5 722.3,1160.2 723.9,1160.0 725.5,1159.7 727.1,1159.4 728.7,1159.1 730.2,1158.8 731.7,1158.5 733.2,1158.3 734.8,1158.0 736.3,1157.7 737.9,1157.4 739.4,1157.1 740.9,1156.8 742.4,1156.5 743.9,1156.2 745.3,1155.9 746.7,1155.6 748.0,1155.3 749.6,1154.9 751.2,1154.6 752.6,1154.3 754.0,1153.9 755.5,1153.6 756.9,1153.2 758.4,1152.9 760.0,1152.5 761.5,1152.2 763.0,1151.9 764.5,1151.5 766.1,1151.2 767.7,1150.9 769.3,1150.6 770.9,1150.2 772.5,1149.8 774.1,1149.4 775.7,1149.0 777.3,1148.5 778.8,1148.0 780.2,1147.4 781.7,1146.9 783.1,1146.3 784.5,1145.6 786.0,1145.0 787.4,1144.3 788.8,1143.6 790.3,1143.0 791.7,1142.3 793.2,1141.6 794.6,1141.0 796.0,1140.4 797.5,1139.7 798.9,1139.1 800.4,1138.5 801.8,1137.9 803.3,1137.2 804.8,1136.6 806.2,1136.0 807.7,1135.4 809.1,1134.8 810.6,1134.1 812.0,1133.5 813.4,1132.9 814.9,1132.2 816.3,1131.6 817.8,1131.0 819.2,1130.3 820.6,1129.7 822.1,1129.1 823.5,1128.4 825.0,1127.8 826.4,1127.2 827.9,1126.6 829.3,1126.0 830.7,1125.4 832.2,1124.9 833.6,1124.3 835.1,1123.8 836.5,1123.3 837.9,1122.8 839.4,1122.2 840.8,1121.7 842.3,1121.2 843.7,1120.7 845.2,1120.1 846.6,1119.6 848.0,1119.0 849.5,1118.5 850.9,1117.9 852.4,1117.3 853.9,1116.8 855.3,1116.2 856.7,1115.6 858.2,1115.0 859.6,1114.5 861.1,1113.9 862.5,1113.3 863.9,1112.7 865.4,1112.1 866.9,1111.4 868.4,1110.8 870.0,1110.1 871.5,1109.5 873.0,1108.8 874.5,1108.2 875.9,1107.5 877.3,1106.9 878.7,1106.3 880.0,1105.8 881.7,1105.1 883.2,1104.5 884.7,1103.9 886.2,1103.3 887.8,1102.7 889.6,1102.0 890.8,1101.5 892.0,1101.0 893.3,1100.5 894.7,1099.9 896.1,1099.4 897.6,1098.8 899.0,1098.2 900.6,1097.5 902.1,1096.9 903.6,1096.3 905.2,1095.7 906.8,1095.0 908.3,1094.4 909.8,1093.8 911.3,1093.3 912.8,1092.7 914.2,1092.2 915.7,1091.6 917.1,1091.1 918.6,1090.5 920.0,1090.0 921.5,1089.5 922.9,1089.0 924.4,1088.5 925.8,1087.9 927.3,1087.4 928.7,1086.9 930.2,1086.4 931.6,1085.9 933.1,1085.5 934.5,1085.0 936.0,1084.5 937.4,1084.0 938.9,1083.6 940.3,1083.1 941.8,1082.7 943.2,1082.3 944.7,1081.8 946.1,1081.4 947.6,1081.0 949.0,1080.6 950.5,1080.1 951.9,1079.7 953.4,1079.3 954.8,1078.9 956.3,1078.5 957.8,1078.0 959.2,1077.6 960.7,1077.2 962.1,1076.7 963.6,1076.3 965.0,1075.9 966.5,1075.4 967.9,1075.0 969.4,1074.5 970.8,1074.1 972.2,1073.7 973.7,1073.2 975.1,1072.8 976.6,1072.3 978.0,1071.9 979.5,1071.5 980.9,1071.0 982.4,1070.6 983.8,1070.2 985.3,1069.7 986.7,1069.3 988.2,1068.9 989.6,1068.4 991.1,1068.0 992.5,1067.6 994.0,1067.2 995.5,1066.7 996.9,1066.3 998.4,1065.9 999.8,1065.4 1001.3,1065.0 1002.7,1064.6 1004.2,1064.1 1005.6,1063.7 1007.1,1063.3 1008.5,1062.8 1010.0,1062.4 1011.4,1062.0 1012.9,1061.6 1014.3,1061.1 1015.8,1060.7 1017.2,1060.3 1018.7,1059.8 1020.1,1059.4 1021.6,1059.0 1023.0,1058.5 1024.5,1058.1 1025.9,1057.6 1027.4,1057.2 1028.8,1056.7 1030.3,1056.2 1031.7,1055.7 1033.2,1055.2 1034.6,1054.7 1036.1,1054.2 1037.5,1053.7 1039.0,1053.2 1040.4,1052.7 1041.9,1052.2 1043.3,1051.7 1044.8,1051.2 1046.2,1050.6 1047.7,1050.1 1049.1,1049.6 1050.6,1049.1 1052.0,1048.6 1053.5,1048.1 1054.9,1047.6 1056.4,1047.1 1057.8,1046.6 1059.3,1046.1 1060.7,1045.6 1062.2,1045.1 1063.6,1044.6 1065.1,1044.1 1066.5,1043.5 1068.0,1043.0 1069.4,1042.5 1070.9,1042.0 1072.3,1041.5 1073.8,1041.0 1075.2,1040.5 1076.7,1040.0 1078.1,1039.5 1079.6,1039.0 1081.0,1038.5 1082.5,1037.9 1083.9,1037.4 1085.4,1036.9 1086.8,1036.4 1088.2,1035.9 1089.7,1035.4 1091.1,1034.9 1092.6,1034.3 1094.0,1033.8 1095.5,1033.3 1096.9,1032.8 1098.4,1032.3 1099.8,1031.8 1101.3,1031.3 1102.7,1030.8 1104.2,1030.3 1105.6,1029.8 1107.1,1029.3 1108.5,1028.7 1110.0,1028.2 1111.4,1027.7 1112.9,1027.2 1114.3,1026.7 1115.8,1026.2 1117.2,1025.7 1118.7,1025.2 1120.1,1024.7 1121.6,1024.2 1123.0,1023.7 1124.5,1023.2 1125.9,1022.7 1127.4,1022.2 1128.8,1021.7 1130.3,1021.2 1131.8,1020.7 1133.2,1020.2 1134.6,1019.6 1136.1,1019.1 1137.6,1018.6 1139.0,1018.1 1140.5,1017.6 1141.9,1017.1 1143.3,1016.6 1144.8,1016.1 1146.2,1015.6 1147.7,1015.1 1149.1,1014.6 1150.5,1014.1 1151.9,1013.6 1153.3,1013.1 1154.7,1012.6 1156.2,1012.1 1157.6,1011.6 1159.0,1011.1 1160.5,1010.6 1161.9,1010.1 1163.4,1009.6 1164.9,1009.0 1166.4,1008.5 1168.0,1008.0 1169.3,1007.6 1170.7,1007.1 1172.1,1006.7 1173.5,1006.2 1174.9,1005.8 1176.4,1005.3 1177.8,1004.8 1179.3,1004.4 1180.8,1003.9 1182.2,1003.5 1183.7,1003.0 1185.2,1002.5 1186.7,1002.1 1188.2,1001.6 1189.7,1001.1 1191.2,1000.7 1192.7,1000.2 1194.2,999.7 1195.6,999.2 1197.1,998.8 1198.6,998.3 1200.0,997.8 1201.5,997.3 1203.0,996.8 1204.4,996.3 1205.9,995.8 1207.4,995.3 1208.9,994.8 1210.3,994.3 1211.8,993.7 1213.3,993.2 1214.7,992.7 1216.2,992.2 1217.6,991.7 1219.1,991.1 1220.6,990.6 1222.0,990.1 1223.5,989.6 1224.9,989.1 1226.4,988.5 1227.9,988.0 1229.3,987.5 1230.8,987.0 1232.3,986.5 1233.7,986.0 1235.2,985.5 1236.7,984.9 1238.1,984.4 1239.6,983.9 1241.1,983.4 1242.5,982.9 1244.0,982.4 1245.5,981.9 1246.9,981.3 1248.4,980.8 1249.9,980.3 1251.3,979.8 1252.8,979.3 1254.3,978.8 1255.7,978.3 1257.2,977.7 1258.7,977.2 1260.1,976.7 1261.6,976.2 1263.1,975.7 1264.5,975.2 1266.0,974.7 1267.5,974.2 1268.9,973.7 1270.4,973.2 1271.9,972.7 1273.4,972.2 1274.8,971.8 1276.3,971.3 1277.8,970.8 1279.2,970.3 1280.7,969.8 1282.2,969.3 1283.6,968.8 1285.1,968.2 1286.6,967.7 1288.0,967.2 1289.5,966.6 1290.9,966.1 1292.4,965.5 1293.8,964.9 1295.2,964.3 1296.6,963.7 1298.0,963.1 1299.4,962.5 1300.8,961.8 1302.2,961.1 1303.6,960.5 1305.0,959.8 1306.4,959.1 1307.8,958.5 1309.2,957.8 1310.6,957.1 1312.0,956.4 1313.4,955.8 1314.8,955.1 1316.2,954.5 1317.6,953.9 1319.0,953.3 1320.4,952.7 1321.8,952.1 1323.2,951.6 1324.7,951.1 1326.1,950.6 1327.6,950.1 1329.0,949.6 1330.5,949.1 1331.9,948.7 1333.4,948.2 1334.9,947.8 1336.4,947.4 1337.8,947.0 1339.3,946.6 1340.8,946.2 1342.2,945.8 1343.7,945.4 1345.2,945.0 1346.7,944.6 1348.1,944.1 1349.6,943.7 1351.1,943.3 1352.5,942.8 1354.0,942.4 1355.5,941.9 1356.9,941.5 1358.4,941.0 1359.9,940.5 1361.3,940.1 1362.8,939.6 1364.3,939.1 1365.7,938.6 1367.2,938.1 1368.7,937.6 1370.1,937.2 1371.6,936.7 1373.1,936.2 1374.5,935.7 1376.0,935.2 1377.5,934.8 1378.9,934.3 1380.4,933.8 1381.9,933.3 1383.3,932.9 1384.8,932.4 1386.3,931.9 1387.7,931.5 1389.2,931.0 1390.7,930.6 1392.2,930.1 1393.7,929.7 1395.2,929.3 1396.7,928.8 1398.2,928.4 1399.7,928.0 1401.2,927.5 1402.7,927.1 1404.2,926.6 1405.7,926.2 1407.1,925.8 1408.6,925.3 1410.0,924.9 1411.4,924.4 1412.8,924.0 1414.2,923.6 1415.6,923.1 1417.1,922.6 1418.7,922.1 1420.2,921.5 1421.6,921.0 1423.1,920.5 1424.5,920.0 1426.0,919.4 1427.4,918.9 1428.8,918.4 1430.2,917.9 1431.6,917.3 1433.0,916.8 1434.4,916.2 1435.8,915.7 1437.3,915.1 1438.7,914.6 1440.1,914.0 1441.6,913.5 1443.0,912.9 1444.5,912.3 1445.9,911.7 1447.4,911.1 1448.8,910.5 1450.2,909.9 1451.7,909.3 1453.1,908.7 1454.6,908.1 1456.0,907.6 1457.4,907.0 1458.9,906.4 1460.3,905.9 1461.8,905.4 1463.2,904.9 1464.7,904.4 1466.2,903.9 1467.7,903.5 1469.2,903.0 1470.6,902.5 1472.1,902.1 1473.6,901.7 1475.1,901.2 1476.6,900.8 1478.0,900.4 1479.5,900.0 1480.9,899.6 1482.2,899.2 1483.6,898.9 1484.9,898.5 1486.5,898.1 1488.1,897.7 1489.6,897.3 1491.1,896.9 1492.5,896.6 1494.0,896.2 1495.4,895.9 1496.9,895.5 1498.4,895.1 1500.0,894.7 1501.4,894.3 1502.8,894.0 1504.3,893.6 1505.7,893.2 1507.2,892.8 1508.7,892.4 1510.2,892.0 1511.7,891.6 1513.2,891.2 1514.7,890.7 1516.2,890.3 1517.7,889.9 1519.2,889.4 1520.7,888.9 1522.2,888.5 1523.7,888.0 1525.2,887.5 1526.6,887.0 1528.1,886.5 1529.6,886.0 1531.1,885.4 1532.6,884.9 1534.1,884.4 1535.5,883.9 1537.0,883.3 1538.5,882.8 1540.0,882.3 1541.5,881.7 1542.9,881.1 1544.4,880.6 1545.9,880.0 1547.4,879.4 1548.8,878.8 1550.3,878.2 1551.8,877.7 1553.3,877.1 1554.7,876.5 1556.2,876.0 1557.7,875.5 1559.2,875.0 1560.7,874.5 1562.1,874.0 1563.6,873.5 1565.1,873.1 1566.6,872.6 1568.1,872.2 1569.6,871.7 1571.0,871.3 1572.5,870.9 1574.0,870.5 1575.5,870.1 1577.0,869.7 1578.5,869.4 1579.9,869.0 1581.4,868.8 1582.9,868.5 1584.4,868.2 1585.9,868.0 1587.3,867.7 1588.8,867.5 1590.3,867.2 1591.8,866.9 1593.3,866.6 1594.7,866.3 1596.2,865.9 1597.7,865.5 1599.2,865.0 1600.7,864.5 1602.2,864.0 1603.7,863.5 1605.1,863.0 1606.6,862.4 1608.1,861.9 1609.6,861.3 1611.1,860.7 1612.5,860.2 1614.0,859.6 1615.5,859.1 1617.0,858.6 1618.5,858.0 1619.9,857.5 1621.4,856.9 1622.9,856.4 1624.4,855.8 1625.8,855.3 1627.3,854.7 1628.8,854.2 1630.3,853.6 1631.7,853.1 1633.2,852.5 1634.7,852.0 1636.2,851.5 1637.7,850.9 1639.1,850.4 1640.6,849.9 1642.1,849.3 1643.6,848.8 1645.1,848.3 1646.6,847.8 1648.0,847.3 1649.5,846.8 1651.0,846.3 1652.5,845.8 1654.0,845.3 1655.5,844.8 1657.0,844.4 1658.5,844.0 1659.9,843.6 1661.4,843.2 1662.9,842.8 1664.4,842.4 1665.9,842.0 1667.4,841.6 1668.9,841.2 1670.3,840.8 1671.8,840.3 1673.2,839.9 1674.6,839.4 1676.1,838.9 1677.5,838.4 1678.9,837.9 1680.3,837.4 1681.6,836.9 1683.0,836.4 1684.4,835.8 1685.8,835.3 1687.2,834.8 1688.6,834.2 1690.1,833.7 1691.5,833.2 1692.9,832.7 1694.3,832.2 1695.7,831.7 1697.2,831.2 1698.6,830.6 1700.1,830.1 1701.5,829.6 1703.0,829.1 1704.5,828.6 1705.9,828.1 1707.4,827.6 1708.8,827.1 1710.3,826.6 1711.7,826.1 1713.2,825.7 1714.6,825.2 1716.1,824.8 1717.5,824.3 1718.9,823.9 1720.4,823.4 1721.8,823.0 1723.3,822.6 1724.7,822.1 1726.2,821.7 1727.6,821.3 1729.1,820.9 1730.5,820.5 1732.0,820.1 1733.6,819.7 1735.2,819.3 1736.7,818.9 1738.3,818.5 1739.8,818.2 1741.4,817.8 1742.9,817.4 1744.5,817.0 1746.0,816.7 1747.6,816.3 1749.1,815.9 1750.7,815.5 1752.2,815.1 1753.6,814.7 1755.1,814.3 1756.5,814.0 1758.0,813.6 1759.4,813.2 1760.9,812.8 1762.3,812.4 1763.8,812.0 1765.2,811.5 1766.7,811.1 1768.1,810.7 1769.6,810.3 1771.0,809.9 1772.4,809.5 1773.9,809.1 1775.3,808.6 1776.8,808.2 1778.2,807.8 1779.7,807.3 1781.1,806.9 1782.5,806.4 1784.0,806.0 1785.4,805.6 1786.9,805.1 1788.3,804.7 1789.8,804.3 1791.2,803.9 1792.8,803.5 1794.3,803.1 1795.9,802.7 1797.4,802.3 1799.0,801.9 1800.5,801.5 1802.1,801.2 1803.6,800.8 1805.2,800.4 1806.7,800.0 1808.3,799.6 1809.9,799.2 1811.4,798.8 1812.9,798.4 1814.3,797.9 1815.8,797.5 1817.3,797.0 1818.7,796.6 1820.2,796.1 1821.7,795.6 1823.1,795.1 1824.6,794.7 1826.0,794.2 1827.5,793.8 1828.9,793.4 1830.2,793.0 1831.6,792.7 1833.2,792.3 1834.9,792.0 1836.5,791.7 1838.2,791.3 1839.8,791.1 1841.3,790.8 1842.8,790.6 1844.2,790.4 1845.5,790.3 1846.7,790.2 1848.6,790.1 1850.2,790.1 1851.8,790.4 1853.3,791.1 1854.9,792.0 1856.4,793.1 1857.9,794.3 1859.2,795.4 1860.4,796.5 1861.7,797.8 1862.8,799.0 1863.9,800.3 1864.9,801.7 1865.8,803.1 1866.7,804.5 1867.5,806.0 1868.2,807.4 1868.9,808.9 1869.5,810.4 1870.2,811.9 1870.8,813.5 1871.3,814.9 1871.8,816.3 1872.3,817.7 1872.8,819.1 1873.3,820.6 1873.8,822.0 1873.8,853.9 1876.8,856.5 1876.8,858.0 1876.8,859.5 1876.8,860.9 1876.8,862.4 1876.8,863.8 1876.8,865.2 1876.8,866.6 1876.8,868.0 1876.8,869.4 1876.8,870.8 1876.8,872.2 1876.8,873.5 1876.8,874.9 1876.8,876.2 1876.8,877.6 1876.8,878.9 1876.9,880.2 1876.9,881.5 1876.9,882.8 1876.9,884.2 1876.9,885.5 1876.9,886.8 1876.9,888.1 1876.9,889.4 1876.9,890.7 1876.9,892.0 1876.9,893.3 1876.9,894.7 1876.9,896.0 1876.9,897.3 1876.9,898.6 1876.9,900.0 1876.9,901.3 1876.9,902.7 1876.9,904.0 1876.9,905.4 1876.9,906.8 1876.9,908.2 1876.9,909.6 1876.9,911.0 1876.9,912.4 1876.9,913.8 1876.9,915.3 1876.9,916.7 1876.9,918.2 1876.9,919.7 1876.9,921.2 1876.9,922.7 1877.0,924.3 1877.0,925.8 1877.0,927.4 1877.0,929.0 1877.0,930.6 1877.0,932.3 1877.0,934.0 1877.0,935.6 1877.0,937.4 1877.0,939.1 1877.0,940.8 1877.0,942.6 1877.0,944.5 1877.0,946.3 1877.0,948.2 1877.0,950.1 1877.0,952.0 1877.0,953.9 1877.0,955.9 1877.0,957.9 1877.0,960.0 1877.0,960.9 1877.0,961.9 1877.0,962.8 1877.0,963.8 1877.0,964.7 1877.0,965.7 1877.0,966.7 1877.0,967.7 1877.0,968.7 1877.0,969.7 1877.0,970.7 1877.0,971.7 1877.0,972.7 1877.0,973.7 1877.0,974.7 1877.0,975.8 1877.0,976.8 1877.0,977.9 1877.0,978.9 1877.0,980.0 1877.0,981.0 1877.0,982.1 1877.0,983.2 1877.0,984.3 1877.0,985.3 1877.0,986.4 1877.0,987.5 1877.0,988.7 1877.0,989.8 1877.0,990.9 1877.0,992.0 1877.0,993.1 1877.0,994.3 1877.0,995.4 1877.0,996.6 1877.0,997.7 1877.0,998.9 1877.0,1000.0 1877.0,1001.2 1877.0,1002.4 1877.0,1003.6 1877.0,1004.7 1877.0,1005.9 1877.0,1007.1 1877.0,1008.3 1877.0,1009.5 1877.0,1010.8 1877.0,1012.0 1877.0,1013.2 1877.0,1014.4 1877.0,1015.7 1877.0,1016.9 1877.0,1018.1 1877.0,1019.4 1877.0,1020.6 1877.0,1021.9 1877.0,1023.2 1877.0,1024.4 1877.0,1025.7 1877.0,1027.0 1877.0,1028.3 1877.0,1029.6 1877.0,1030.9 1877.0,1032.2 1877.0,1033.5 1877.0,1034.8 1877.0,1036.1 1877.0,1037.4 1877.0,1038.7 1877.0,1040.1 1877.0,1041.4 1877.0,1042.7 1877.0,1044.1 1877.0,1045.4 1877.0,1046.8 1877.0,1048.1 1877.0,1049.5 1877.0,1050.8 1877.0,1052.2 1877.0,1053.6 1877.0,1055.0 1877.0,1056.3 1877.0,1057.7 1877.0,1059.1 1877.0,1060.5 1877.0,1061.9 1877.0,1063.3 1877.0,1064.7 1877.0,1066.1 1877.0,1067.5 1877.0,1069.0 1877.0,1070.4 1877.0,1071.8 1877.0,1073.2 1877.0,1074.7 1877.0,1076.1 1877.0,1077.6 1877.0,1079.0 1877.0,1080.5 1877.0,1081.9 1877.0,1083.4 1877.0,1084.8 1877.0,1086.3 1877.0,1087.8 1877.0,1089.2 1877.0,1090.7 1877.0,1092.2 1877.0,1093.7 1877.0,1095.2 1877.0,1096.6 1877.0,1098.1 1877.0,1099.6 1877.0,1101.1 1877.0,1102.6 1877.0,1104.1 1877.0,1105.7 1877.0,1107.2 1877.0,1108.7 1877.0,1110.2 1877.0,1111.7 1877.0,1113.2 1877.0,1114.8 1877.0,1116.3 1877.0,1117.8 1877.0,1119.4 1877.0,1120.9 1877.0,1122.5 1877.0,1124.0 1877.0,1125.6 1877.0,1127.1 1877.0,1128.7 1877.0,1130.2 1877.0,1131.8 1877.0,1133.4 1877.0,1134.9 1877.0,1136.5 1877.0,1138.1 1877.0,1139.6 1877.0,1141.2 1877.0,1142.8 1877.0,1144.4 1877.0,1146.0 1877.0,1147.5 1877.0,1149.1 1877.0,1150.7 1877.0,1152.3 1877.0,1153.9 1877.0,1155.5 1877.0,1157.1 1877.0,1158.7 1877.0,1160.3 1877.0,1161.9 1877.0,1163.6 1877.0,1165.2 1877.0,1166.8 1877.0,1168.4 1877.0,1170.0 1877.0,1171.6 1877.0,1173.3 1877.0,1174.9 1877.0,1176.5 1877.0,1178.1 1877.0,1179.8 1877.0,1181.4 1877.0,1183.0 1877.0,1184.7 1877.0,1186.3 1877.0,1188.0 1877.0,1189.6 1877.0,1191.2 1877.0,1192.9 1877.0,1194.5 1877.0,1196.2 1877.0,1197.8 1877.0,1199.5 1877.0,1201.1 1877.0,1202.8 1877.0,1204.5 1877.0,1206.1 1877.0,1207.8 1877.0,1209.4 1877.0,1211.1 1877.0,1212.8 1877.0,1214.4 1877.0,1216.1 1877.0,1217.7 1877.0,1219.4 1877.0,1221.1 1877.0,1222.8 1877.0,1224.4 1877.0,1226.1 1877.0,1227.8 1877.0,1229.4 1877.0,1231.1 1877.0,1232.8 1877.0,1234.5 1877.0,1236.2 1877.0,1237.8 1877.0,1239.5 1877.0,1241.2 1877.0,1242.9 1877.0,1244.6 1877.0,1246.2 1877.0,1247.9 1877.0,1249.6 1877.0,1251.3 1877.0,1253.0 1877.0,1254.7 1877.0,1256.3 1877.0,1258.0 1877.0,1259.7 1877.0,1261.4 1877.0,1263.1 1877.0,1264.8 1877.0,1266.5 1877.0,1268.2 1877.0,1269.9 1877.0,1271.5 1877.0,1273.2 1877.0,1274.9 1877.0,1276.6 1877.0,1278.3 1877.0,1280.0 1877.0,1281.7 1877.0,1283.4 1877.0,1285.1 1877.0,1286.8 1877.0,1288.4 1877.0,1290.1 1877.0,1291.8 1877.0,1293.5 1877.0,1295.2 1877.0,1296.9 1877.0,1298.6 1877.0,1300.3 1877.0,1302.0 1877.0,1303.7 1877.0,1305.3 1877.0,1307.0 1877.0,1308.7 1877.0,1310.4 1877.0,1312.1 1877.0,1313.8 1877.0,1315.5 1877.0,1317.2 1877.0,1318.8 1877.0,1320.5 1877.0,1322.2 1877.0,1323.9 1877.0,1325.6 1877.0,1327.3 1877.0,1328.9 1877.0,1330.6 1877.0,1332.3 1877.0,1334.0 1877.0,1335.7 1877.0,1337.3 1877.0,1339.0 1877.0,1340.7 1877.0,1342.4 1877.0,1344.0 1877.0,1345.7 1877.0,1347.4 1877.0,1349.0 1877.0,1350.7 1877.0,1352.4 1877.0,1354.1 1877.0,1355.7 1877.0,1357.4 1877.0,1359.0 1877.0,1360.7 1877.0,1362.4 1877.0,1364.0 1877.0,1365.7 1877.0,1367.3 1877.0,1369.0 1877.0,1370.6 1877.0,1372.3 1877.0,1373.9 1877.0,1375.6 1877.0,1377.2 1877.0,1378.9 1877.0,1380.5 1877.0,1382.2 1877.0,1383.8 1877.0,1385.4 1877.0,1387.1 1877.0,1388.7 1877.0,1390.4 1877.0,1392.0 1877.0,1393.6 1877.0,1395.2 1877.0,1396.9 1877.0,1398.5 1877.0,1400.1 1877.0,1401.7 1877.0,1403.3 1877.0,1405.0 1877.0,1406.6 1877.0,1408.2 1877.0,1409.8 1877.0,1411.4 1877.0,1413.0 1877.0,1414.6 1877.0,1416.2 1877.0,1417.8 1877.0,1419.4 1877.0,1421.0 1877.0,1422.6 1877.0,1424.2 1877.0,1425.8 1877.0,1427.3 1877.0,1428.9 1877.0,1430.5 1877.0,1432.1 1877.0,1433.6 1877.0,1435.2 1877.0,1436.8 1877.0,1438.3 1877.0,1439.9 1877.0,1441.5 1877.0,1443.0 1877.0,1444.6 1877.0,1446.1 1877.0,1447.7 1877.0,1449.2 1877.0,1450.7 1877.0,1452.3 1877.0,1453.8 1877.0,1455.4 1877.0,1456.9 1877.0,1458.4 1877.0,1459.9 1877.0,1461.5 1877.0,1463.0 1877.0,1464.5 1877.0,1466.0 1877.0,1467.5 1877.0,1469.0" fill="none" stroke="#00ff00" stroke-width="6.6" stroke-linejoin="round" stroke-linecap="butt"/>
<line x1="1514.2" y1="118" x2="1676.6" y2="118" stroke="#000000" stroke-width="6.5" stroke-linecap="round"/>
<text transform="translate(1694.00,143.90) scale(0.964,1)" class="lg">PHF</text>
<line x1="1514.2" y1="209" x2="1676.6" y2="209" stroke="#ff0000" stroke-width="6.5" stroke-linecap="round"/>
<text transform="translate(1694.00,234.90) scale(0.964,1)" class="lg">PHFSe10</text>
<line x1="1514.2" y1="300.3" x2="1676.6" y2="300.3" stroke="#0000ff" stroke-width="6.5" stroke-linecap="round"/>
<text transform="translate(1694.00,326.20) scale(0.964,1)" class="lg">PHFSe20</text>
<line x1="1514.2" y1="391.5" x2="1676.6" y2="391.5" stroke="#00ff00" stroke-width="6.5" stroke-linecap="round"/>
<text transform="translate(1694.00,417.40) scale(0.964,1)" class="lg">PHFSe30</text>
<text transform="translate(1135.00,1680.00) scale(0.961,1)" text-anchor="middle" class="ti">Strain (%)</text>
<text transform="translate(77.00,717.00) rotate(-90) scale(0.98,1)" text-anchor="middle" class="ti">Stress (MPa)</text>
</svg>
</body></html>
